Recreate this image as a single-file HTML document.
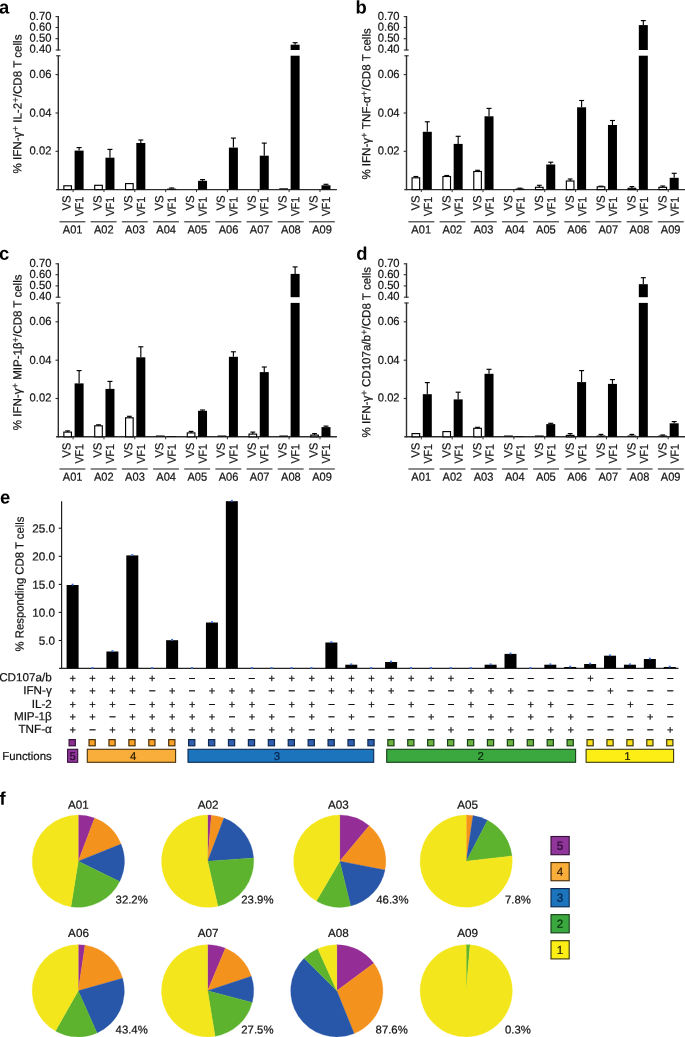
<!DOCTYPE html>
<html lang="en">
<head>
<meta charset="utf-8">
<title>Figure</title>
<style>
html,body{margin:0;padding:0;background:#fff;}
body{width:685px;height:1037px;overflow:hidden;}
svg{display:block;font-family:"Liberation Sans", sans-serif;text-rendering:geometricPrecision;will-change:transform;}
</style>
</head>
<body>
<svg width="685" height="1037" viewBox="0 0 685 1037">
<rect x="0" y="0" width="685" height="1037" fill="#ffffff"/>
<text x="-0.90" y="13.60" font-size="18.4" font-weight="bold" transform="rotate(0.04 -0.90 13.60)" fill="#000" stroke="none">a</text>
<line x1="58.30" y1="16.00" x2="58.30" y2="50.40" stroke="#2e2e2e" stroke-width="1.4" />
<line x1="58.30" y1="55.40" x2="58.30" y2="190.20" stroke="#2e2e2e" stroke-width="1.4" />
<line x1="55.70" y1="50.00" x2="60.50" y2="50.00" stroke="#2e2e2e" stroke-width="1.1" />
<line x1="56.10" y1="55.80" x2="60.50" y2="55.80" stroke="#2e2e2e" stroke-width="1.1" />
<line x1="55.50" y1="16.60" x2="58.30" y2="16.60" stroke="#2e2e2e" stroke-width="1.1" />
<text x="51.40" y="19.90" font-size="11.7" text-anchor="end" transform="rotate(0.04 51.40 19.90)" textLength="21.8" lengthAdjust="spacingAndGlyphs" fill="#141414" stroke="#141414" stroke-width="0.22" >0.70</text>
<line x1="55.50" y1="27.50" x2="58.30" y2="27.50" stroke="#2e2e2e" stroke-width="1.1" />
<text x="51.40" y="30.80" font-size="11.7" text-anchor="end" transform="rotate(0.04 51.40 30.80)" textLength="21.8" lengthAdjust="spacingAndGlyphs" fill="#141414" stroke="#141414" stroke-width="0.22" >0.60</text>
<line x1="55.50" y1="38.70" x2="58.30" y2="38.70" stroke="#2e2e2e" stroke-width="1.1" />
<text x="51.40" y="41.70" font-size="11.7" text-anchor="end" transform="rotate(0.04 51.40 41.70)" textLength="21.8" lengthAdjust="spacingAndGlyphs" fill="#141414" stroke="#141414" stroke-width="0.22" >0.50</text>
<text x="51.40" y="52.70" font-size="11.7" text-anchor="end" transform="rotate(0.04 51.40 52.70)" textLength="21.8" lengthAdjust="spacingAndGlyphs" fill="#141414" stroke="#141414" stroke-width="0.22" >0.40</text>
<line x1="55.50" y1="74.60" x2="58.30" y2="74.60" stroke="#2e2e2e" stroke-width="1.1" />
<text x="51.40" y="77.90" font-size="11.7" text-anchor="end" transform="rotate(0.04 51.40 77.90)" textLength="21.8" lengthAdjust="spacingAndGlyphs" fill="#141414" stroke="#141414" stroke-width="0.22" >0.06</text>
<line x1="55.50" y1="113.00" x2="58.30" y2="113.00" stroke="#2e2e2e" stroke-width="1.1" />
<text x="51.40" y="116.80" font-size="11.7" text-anchor="end" transform="rotate(0.04 51.40 116.80)" textLength="21.8" lengthAdjust="spacingAndGlyphs" fill="#141414" stroke="#141414" stroke-width="0.22" >0.04</text>
<line x1="55.50" y1="151.30" x2="58.30" y2="151.30" stroke="#2e2e2e" stroke-width="1.1" />
<text x="51.40" y="154.40" font-size="11.7" text-anchor="end" transform="rotate(0.04 51.40 154.40)" textLength="21.8" lengthAdjust="spacingAndGlyphs" fill="#141414" stroke="#141414" stroke-width="0.22" >0.02</text>
<line x1="56.10" y1="189.60" x2="336.90" y2="189.60" stroke="#2e2e2e" stroke-width="1.4" />
<text x="21.40" y="104.00" font-size="11.7" text-anchor="middle" transform="rotate(-89.96 21.40 104.00)" textLength="139.0" lengthAdjust="spacingAndGlyphs" fill="#141414" stroke="#141414" stroke-width="0.22" >% IFN-&#947;<tspan dy="-3.0" font-size="9.6" stroke-width="0.12">+</tspan><tspan dy="3.0"> IL-2</tspan><tspan dy="-3.0" font-size="9.6" stroke-width="0.12">+</tspan><tspan dy="3.0">/CD8 T cells</tspan></text>
<rect x="63.85" y="185.80" width="7.60" height="3.80" fill="#fff" stroke="#000" stroke-width="1.15"/>
<line x1="79.10" y1="147.60" x2="79.10" y2="150.60" stroke="#000" stroke-width="1.15" />
<line x1="76.60" y1="147.60" x2="81.60" y2="147.60" stroke="#000" stroke-width="1.15" />
<rect x="74.60" y="150.60" width="9.00" height="39.00" fill="#000000"/>
<line x1="73.10" y1="189.60" x2="73.10" y2="192.10" stroke="#2e2e2e" stroke-width="1.0" />
<text x="70.55" y="210.60" font-size="11.7" transform="rotate(-89.96 70.55 210.60)" textLength="15.1" lengthAdjust="spacingAndGlyphs" fill="#141414" stroke="#141414" stroke-width="0.22" >VS</text>
<text x="83.20" y="216.30" font-size="11.7" transform="rotate(-89.96 83.20 216.30)" textLength="19.5" lengthAdjust="spacingAndGlyphs" fill="#141414" stroke="#141414" stroke-width="0.22" >VF1</text>
<line x1="59.50" y1="221.80" x2="85.40" y2="221.80" stroke="#2a2a2a" stroke-width="1.1" />
<text x="72.60" y="233.50" font-size="11.7" text-anchor="middle" transform="rotate(0.04 72.60 233.50)" textLength="19.7" lengthAdjust="spacingAndGlyphs" fill="#141414" stroke="#141414" stroke-width="0.22" >A01</text>
<rect x="94.71" y="185.30" width="7.60" height="4.30" fill="#fff" stroke="#000" stroke-width="1.15"/>
<line x1="109.96" y1="149.40" x2="109.96" y2="157.70" stroke="#000" stroke-width="1.15" />
<line x1="107.46" y1="149.40" x2="112.46" y2="149.40" stroke="#000" stroke-width="1.15" />
<rect x="105.46" y="157.70" width="9.00" height="31.90" fill="#000000"/>
<line x1="103.96" y1="189.60" x2="103.96" y2="192.10" stroke="#2e2e2e" stroke-width="1.0" />
<text x="101.41" y="210.60" font-size="11.7" transform="rotate(-89.96 101.41 210.60)" textLength="15.1" lengthAdjust="spacingAndGlyphs" fill="#141414" stroke="#141414" stroke-width="0.22" >VS</text>
<text x="114.06" y="216.30" font-size="11.7" transform="rotate(-89.96 114.06 216.30)" textLength="19.5" lengthAdjust="spacingAndGlyphs" fill="#141414" stroke="#141414" stroke-width="0.22" >VF1</text>
<line x1="90.68" y1="221.80" x2="116.58" y2="221.80" stroke="#2a2a2a" stroke-width="1.1" />
<text x="103.78" y="233.50" font-size="11.7" text-anchor="middle" transform="rotate(0.04 103.78 233.50)" textLength="19.7" lengthAdjust="spacingAndGlyphs" fill="#141414" stroke="#141414" stroke-width="0.22" >A02</text>
<rect x="125.57" y="183.60" width="7.60" height="6.00" fill="#fff" stroke="#000" stroke-width="1.15"/>
<line x1="140.82" y1="140.00" x2="140.82" y2="143.00" stroke="#000" stroke-width="1.15" />
<line x1="138.32" y1="140.00" x2="143.32" y2="140.00" stroke="#000" stroke-width="1.15" />
<rect x="136.32" y="143.00" width="9.00" height="46.60" fill="#000000"/>
<line x1="134.82" y1="189.60" x2="134.82" y2="192.10" stroke="#2e2e2e" stroke-width="1.0" />
<text x="132.27" y="210.60" font-size="11.7" transform="rotate(-89.96 132.27 210.60)" textLength="15.1" lengthAdjust="spacingAndGlyphs" fill="#141414" stroke="#141414" stroke-width="0.22" >VS</text>
<text x="144.92" y="216.30" font-size="11.7" transform="rotate(-89.96 144.92 216.30)" textLength="19.5" lengthAdjust="spacingAndGlyphs" fill="#141414" stroke="#141414" stroke-width="0.22" >VF1</text>
<line x1="121.86" y1="221.80" x2="147.76" y2="221.80" stroke="#2a2a2a" stroke-width="1.1" />
<text x="134.96" y="233.50" font-size="11.7" text-anchor="middle" transform="rotate(0.04 134.96 233.50)" textLength="19.7" lengthAdjust="spacingAndGlyphs" fill="#141414" stroke="#141414" stroke-width="0.22" >A03</text>
<line x1="171.68" y1="188.00" x2="171.68" y2="188.60" stroke="#000" stroke-width="1.15" />
<line x1="169.18" y1="188.00" x2="174.18" y2="188.00" stroke="#000" stroke-width="1.15" />
<rect x="167.18" y="188.60" width="9.00" height="1.00" fill="#000000"/>
<line x1="165.68" y1="189.60" x2="165.68" y2="192.10" stroke="#2e2e2e" stroke-width="1.0" />
<text x="163.13" y="210.60" font-size="11.7" transform="rotate(-89.96 163.13 210.60)" textLength="15.1" lengthAdjust="spacingAndGlyphs" fill="#141414" stroke="#141414" stroke-width="0.22" >VS</text>
<text x="175.78" y="216.30" font-size="11.7" transform="rotate(-89.96 175.78 216.30)" textLength="19.5" lengthAdjust="spacingAndGlyphs" fill="#141414" stroke="#141414" stroke-width="0.22" >VF1</text>
<line x1="153.04" y1="221.80" x2="178.94" y2="221.80" stroke="#2a2a2a" stroke-width="1.1" />
<text x="166.14" y="233.50" font-size="11.7" text-anchor="middle" transform="rotate(0.04 166.14 233.50)" textLength="19.7" lengthAdjust="spacingAndGlyphs" fill="#141414" stroke="#141414" stroke-width="0.22" >A04</text>
<line x1="202.54" y1="179.60" x2="202.54" y2="180.80" stroke="#000" stroke-width="1.15" />
<line x1="200.04" y1="179.60" x2="205.04" y2="179.60" stroke="#000" stroke-width="1.15" />
<rect x="198.04" y="180.80" width="9.00" height="8.80" fill="#000000"/>
<line x1="196.54" y1="189.60" x2="196.54" y2="192.10" stroke="#2e2e2e" stroke-width="1.0" />
<text x="193.99" y="210.60" font-size="11.7" transform="rotate(-89.96 193.99 210.60)" textLength="15.1" lengthAdjust="spacingAndGlyphs" fill="#141414" stroke="#141414" stroke-width="0.22" >VS</text>
<text x="206.64" y="216.30" font-size="11.7" transform="rotate(-89.96 206.64 216.30)" textLength="19.5" lengthAdjust="spacingAndGlyphs" fill="#141414" stroke="#141414" stroke-width="0.22" >VF1</text>
<line x1="184.22" y1="221.80" x2="210.12" y2="221.80" stroke="#2a2a2a" stroke-width="1.1" />
<text x="197.32" y="233.50" font-size="11.7" text-anchor="middle" transform="rotate(0.04 197.32 233.50)" textLength="19.7" lengthAdjust="spacingAndGlyphs" fill="#141414" stroke="#141414" stroke-width="0.22" >A05</text>
<line x1="233.40" y1="138.10" x2="233.40" y2="147.60" stroke="#000" stroke-width="1.15" />
<line x1="230.90" y1="138.10" x2="235.90" y2="138.10" stroke="#000" stroke-width="1.15" />
<rect x="228.90" y="147.60" width="9.00" height="42.00" fill="#000000"/>
<line x1="227.40" y1="189.60" x2="227.40" y2="192.10" stroke="#2e2e2e" stroke-width="1.0" />
<text x="224.85" y="210.60" font-size="11.7" transform="rotate(-89.96 224.85 210.60)" textLength="15.1" lengthAdjust="spacingAndGlyphs" fill="#141414" stroke="#141414" stroke-width="0.22" >VS</text>
<text x="237.50" y="216.30" font-size="11.7" transform="rotate(-89.96 237.50 216.30)" textLength="19.5" lengthAdjust="spacingAndGlyphs" fill="#141414" stroke="#141414" stroke-width="0.22" >VF1</text>
<line x1="215.40" y1="221.80" x2="241.30" y2="221.80" stroke="#2a2a2a" stroke-width="1.1" />
<text x="228.50" y="233.50" font-size="11.7" text-anchor="middle" transform="rotate(0.04 228.50 233.50)" textLength="19.7" lengthAdjust="spacingAndGlyphs" fill="#141414" stroke="#141414" stroke-width="0.22" >A06</text>
<line x1="264.26" y1="143.10" x2="264.26" y2="155.70" stroke="#000" stroke-width="1.15" />
<line x1="261.76" y1="143.10" x2="266.76" y2="143.10" stroke="#000" stroke-width="1.15" />
<rect x="259.76" y="155.70" width="9.00" height="33.90" fill="#000000"/>
<line x1="258.26" y1="189.60" x2="258.26" y2="192.10" stroke="#2e2e2e" stroke-width="1.0" />
<text x="255.71" y="210.60" font-size="11.7" transform="rotate(-89.96 255.71 210.60)" textLength="15.1" lengthAdjust="spacingAndGlyphs" fill="#141414" stroke="#141414" stroke-width="0.22" >VS</text>
<text x="268.36" y="216.30" font-size="11.7" transform="rotate(-89.96 268.36 216.30)" textLength="19.5" lengthAdjust="spacingAndGlyphs" fill="#141414" stroke="#141414" stroke-width="0.22" >VF1</text>
<line x1="246.58" y1="221.80" x2="272.48" y2="221.80" stroke="#2a2a2a" stroke-width="1.1" />
<text x="259.68" y="233.50" font-size="11.7" text-anchor="middle" transform="rotate(0.04 259.68 233.50)" textLength="19.7" lengthAdjust="spacingAndGlyphs" fill="#141414" stroke="#141414" stroke-width="0.22" >A07</text>
<line x1="279.32" y1="188.90" x2="288.02" y2="188.90" stroke="#141414" stroke-width="1.3" />
<rect x="290.62" y="55.70" width="9.00" height="133.90" fill="#000000"/>
<rect x="290.62" y="44.70" width="9.00" height="5.30" fill="#000000"/>
<line x1="295.12" y1="42.70" x2="295.12" y2="44.70" stroke="#000" stroke-width="1.15" />
<line x1="292.62" y1="42.70" x2="297.62" y2="42.70" stroke="#000" stroke-width="1.15" />
<line x1="289.12" y1="189.60" x2="289.12" y2="192.10" stroke="#2e2e2e" stroke-width="1.0" />
<text x="286.57" y="210.60" font-size="11.7" transform="rotate(-89.96 286.57 210.60)" textLength="15.1" lengthAdjust="spacingAndGlyphs" fill="#141414" stroke="#141414" stroke-width="0.22" >VS</text>
<text x="299.22" y="216.30" font-size="11.7" transform="rotate(-89.96 299.22 216.30)" textLength="19.5" lengthAdjust="spacingAndGlyphs" fill="#141414" stroke="#141414" stroke-width="0.22" >VF1</text>
<line x1="277.76" y1="221.80" x2="303.66" y2="221.80" stroke="#2a2a2a" stroke-width="1.1" />
<text x="290.86" y="233.50" font-size="11.7" text-anchor="middle" transform="rotate(0.04 290.86 233.50)" textLength="19.7" lengthAdjust="spacingAndGlyphs" fill="#141414" stroke="#141414" stroke-width="0.22" >A08</text>
<line x1="325.98" y1="184.30" x2="325.98" y2="185.30" stroke="#000" stroke-width="1.15" />
<line x1="323.48" y1="184.30" x2="328.48" y2="184.30" stroke="#000" stroke-width="1.15" />
<rect x="321.48" y="185.30" width="9.00" height="4.30" fill="#000000"/>
<line x1="319.98" y1="189.60" x2="319.98" y2="192.10" stroke="#2e2e2e" stroke-width="1.0" />
<text x="317.43" y="210.60" font-size="11.7" transform="rotate(-89.96 317.43 210.60)" textLength="15.1" lengthAdjust="spacingAndGlyphs" fill="#141414" stroke="#141414" stroke-width="0.22" >VS</text>
<text x="330.08" y="216.30" font-size="11.7" transform="rotate(-89.96 330.08 216.30)" textLength="19.5" lengthAdjust="spacingAndGlyphs" fill="#141414" stroke="#141414" stroke-width="0.22" >VF1</text>
<line x1="308.94" y1="221.80" x2="334.84" y2="221.80" stroke="#2a2a2a" stroke-width="1.1" />
<text x="322.04" y="233.50" font-size="11.7" text-anchor="middle" transform="rotate(0.04 322.04 233.50)" textLength="19.7" lengthAdjust="spacingAndGlyphs" fill="#141414" stroke="#141414" stroke-width="0.22" >A09</text>
<text x="355.50" y="13.60" font-size="18.4" font-weight="bold" transform="rotate(0.04 355.50 13.60)" fill="#000" stroke="none">b</text>
<line x1="406.50" y1="16.00" x2="406.50" y2="50.40" stroke="#2e2e2e" stroke-width="1.4" />
<line x1="406.50" y1="55.40" x2="406.50" y2="190.20" stroke="#2e2e2e" stroke-width="1.4" />
<line x1="403.90" y1="50.00" x2="408.70" y2="50.00" stroke="#2e2e2e" stroke-width="1.1" />
<line x1="404.30" y1="55.80" x2="408.70" y2="55.80" stroke="#2e2e2e" stroke-width="1.1" />
<line x1="403.70" y1="16.60" x2="406.50" y2="16.60" stroke="#2e2e2e" stroke-width="1.1" />
<text x="399.60" y="19.90" font-size="11.7" text-anchor="end" transform="rotate(0.04 399.60 19.90)" textLength="21.8" lengthAdjust="spacingAndGlyphs" fill="#141414" stroke="#141414" stroke-width="0.22" >0.70</text>
<line x1="403.70" y1="27.50" x2="406.50" y2="27.50" stroke="#2e2e2e" stroke-width="1.1" />
<text x="399.60" y="30.80" font-size="11.7" text-anchor="end" transform="rotate(0.04 399.60 30.80)" textLength="21.8" lengthAdjust="spacingAndGlyphs" fill="#141414" stroke="#141414" stroke-width="0.22" >0.60</text>
<line x1="403.70" y1="38.70" x2="406.50" y2="38.70" stroke="#2e2e2e" stroke-width="1.1" />
<text x="399.60" y="41.70" font-size="11.7" text-anchor="end" transform="rotate(0.04 399.60 41.70)" textLength="21.8" lengthAdjust="spacingAndGlyphs" fill="#141414" stroke="#141414" stroke-width="0.22" >0.50</text>
<text x="399.60" y="52.70" font-size="11.7" text-anchor="end" transform="rotate(0.04 399.60 52.70)" textLength="21.8" lengthAdjust="spacingAndGlyphs" fill="#141414" stroke="#141414" stroke-width="0.22" >0.40</text>
<line x1="403.70" y1="74.60" x2="406.50" y2="74.60" stroke="#2e2e2e" stroke-width="1.1" />
<text x="399.60" y="77.90" font-size="11.7" text-anchor="end" transform="rotate(0.04 399.60 77.90)" textLength="21.8" lengthAdjust="spacingAndGlyphs" fill="#141414" stroke="#141414" stroke-width="0.22" >0.06</text>
<line x1="403.70" y1="113.00" x2="406.50" y2="113.00" stroke="#2e2e2e" stroke-width="1.1" />
<text x="399.60" y="116.80" font-size="11.7" text-anchor="end" transform="rotate(0.04 399.60 116.80)" textLength="21.8" lengthAdjust="spacingAndGlyphs" fill="#141414" stroke="#141414" stroke-width="0.22" >0.04</text>
<line x1="403.70" y1="151.30" x2="406.50" y2="151.30" stroke="#2e2e2e" stroke-width="1.1" />
<text x="399.60" y="154.40" font-size="11.7" text-anchor="end" transform="rotate(0.04 399.60 154.40)" textLength="21.8" lengthAdjust="spacingAndGlyphs" fill="#141414" stroke="#141414" stroke-width="0.22" >0.02</text>
<line x1="404.30" y1="189.60" x2="685.10" y2="189.60" stroke="#2e2e2e" stroke-width="1.4" />
<text x="370.35" y="103.90" font-size="11.7" text-anchor="middle" transform="rotate(-89.96 370.35 103.90)" textLength="151.4" lengthAdjust="spacingAndGlyphs" fill="#141414" stroke="#141414" stroke-width="0.22" >% IFN-&#947;<tspan dy="-3.0" font-size="9.6" stroke-width="0.12">+</tspan><tspan dy="3.0"> TNF-&#945;</tspan><tspan dy="-3.0" font-size="9.6" stroke-width="0.12">+</tspan><tspan dy="3.0">/CD8 T cells</tspan></text>
<line x1="415.85" y1="176.50" x2="415.85" y2="177.80" stroke="#000" stroke-width="1.15" />
<line x1="413.45" y1="176.50" x2="418.25" y2="176.50" stroke="#000" stroke-width="1.15" />
<rect x="412.05" y="177.80" width="7.60" height="11.80" fill="#fff" stroke="#000" stroke-width="1.15"/>
<line x1="427.30" y1="121.80" x2="427.30" y2="131.80" stroke="#000" stroke-width="1.15" />
<line x1="424.80" y1="121.80" x2="429.80" y2="121.80" stroke="#000" stroke-width="1.15" />
<rect x="422.80" y="131.80" width="9.00" height="57.80" fill="#000000"/>
<line x1="421.30" y1="189.60" x2="421.30" y2="192.10" stroke="#2e2e2e" stroke-width="1.0" />
<text x="419.55" y="210.60" font-size="11.7" transform="rotate(-89.96 419.55 210.60)" textLength="15.1" lengthAdjust="spacingAndGlyphs" fill="#141414" stroke="#141414" stroke-width="0.22" >VS</text>
<text x="431.90" y="216.30" font-size="11.7" transform="rotate(-89.96 431.90 216.30)" textLength="19.5" lengthAdjust="spacingAndGlyphs" fill="#141414" stroke="#141414" stroke-width="0.22" >VF1</text>
<line x1="408.40" y1="221.80" x2="434.30" y2="221.80" stroke="#2a2a2a" stroke-width="1.1" />
<text x="421.20" y="233.50" font-size="11.7" text-anchor="middle" transform="rotate(0.04 421.20 233.50)" textLength="19.7" lengthAdjust="spacingAndGlyphs" fill="#141414" stroke="#141414" stroke-width="0.22" >A01</text>
<line x1="446.71" y1="175.50" x2="446.71" y2="176.50" stroke="#000" stroke-width="1.15" />
<line x1="444.31" y1="175.50" x2="449.11" y2="175.50" stroke="#000" stroke-width="1.15" />
<rect x="442.91" y="176.50" width="7.60" height="13.10" fill="#fff" stroke="#000" stroke-width="1.15"/>
<line x1="458.16" y1="136.30" x2="458.16" y2="143.90" stroke="#000" stroke-width="1.15" />
<line x1="455.66" y1="136.30" x2="460.66" y2="136.30" stroke="#000" stroke-width="1.15" />
<rect x="453.66" y="143.90" width="9.00" height="45.70" fill="#000000"/>
<line x1="452.16" y1="189.60" x2="452.16" y2="192.10" stroke="#2e2e2e" stroke-width="1.0" />
<text x="450.41" y="210.60" font-size="11.7" transform="rotate(-89.96 450.41 210.60)" textLength="15.1" lengthAdjust="spacingAndGlyphs" fill="#141414" stroke="#141414" stroke-width="0.22" >VS</text>
<text x="462.76" y="216.30" font-size="11.7" transform="rotate(-89.96 462.76 216.30)" textLength="19.5" lengthAdjust="spacingAndGlyphs" fill="#141414" stroke="#141414" stroke-width="0.22" >VF1</text>
<line x1="439.58" y1="221.80" x2="465.48" y2="221.80" stroke="#2a2a2a" stroke-width="1.1" />
<text x="452.38" y="233.50" font-size="11.7" text-anchor="middle" transform="rotate(0.04 452.38 233.50)" textLength="19.7" lengthAdjust="spacingAndGlyphs" fill="#141414" stroke="#141414" stroke-width="0.22" >A02</text>
<line x1="477.57" y1="170.30" x2="477.57" y2="171.50" stroke="#000" stroke-width="1.15" />
<line x1="475.17" y1="170.30" x2="479.97" y2="170.30" stroke="#000" stroke-width="1.15" />
<rect x="473.77" y="171.50" width="7.60" height="18.10" fill="#fff" stroke="#000" stroke-width="1.15"/>
<line x1="489.02" y1="108.40" x2="489.02" y2="116.30" stroke="#000" stroke-width="1.15" />
<line x1="486.52" y1="108.40" x2="491.52" y2="108.40" stroke="#000" stroke-width="1.15" />
<rect x="484.52" y="116.30" width="9.00" height="73.30" fill="#000000"/>
<line x1="483.02" y1="189.60" x2="483.02" y2="192.10" stroke="#2e2e2e" stroke-width="1.0" />
<text x="481.27" y="210.60" font-size="11.7" transform="rotate(-89.96 481.27 210.60)" textLength="15.1" lengthAdjust="spacingAndGlyphs" fill="#141414" stroke="#141414" stroke-width="0.22" >VS</text>
<text x="493.62" y="216.30" font-size="11.7" transform="rotate(-89.96 493.62 216.30)" textLength="19.5" lengthAdjust="spacingAndGlyphs" fill="#141414" stroke="#141414" stroke-width="0.22" >VF1</text>
<line x1="470.76" y1="221.80" x2="496.66" y2="221.80" stroke="#2a2a2a" stroke-width="1.1" />
<text x="483.56" y="233.50" font-size="11.7" text-anchor="middle" transform="rotate(0.04 483.56 233.50)" textLength="19.7" lengthAdjust="spacingAndGlyphs" fill="#141414" stroke="#141414" stroke-width="0.22" >A03</text>
<line x1="519.88" y1="188.20" x2="519.88" y2="188.60" stroke="#000" stroke-width="1.15" />
<line x1="517.38" y1="188.20" x2="522.38" y2="188.20" stroke="#000" stroke-width="1.15" />
<rect x="515.38" y="188.60" width="9.00" height="1.00" fill="#000000"/>
<line x1="513.88" y1="189.60" x2="513.88" y2="192.10" stroke="#2e2e2e" stroke-width="1.0" />
<text x="512.13" y="210.60" font-size="11.7" transform="rotate(-89.96 512.13 210.60)" textLength="15.1" lengthAdjust="spacingAndGlyphs" fill="#141414" stroke="#141414" stroke-width="0.22" >VS</text>
<text x="524.48" y="216.30" font-size="11.7" transform="rotate(-89.96 524.48 216.30)" textLength="19.5" lengthAdjust="spacingAndGlyphs" fill="#141414" stroke="#141414" stroke-width="0.22" >VF1</text>
<line x1="501.94" y1="221.80" x2="527.84" y2="221.80" stroke="#2a2a2a" stroke-width="1.1" />
<text x="514.74" y="233.50" font-size="11.7" text-anchor="middle" transform="rotate(0.04 514.74 233.50)" textLength="19.7" lengthAdjust="spacingAndGlyphs" fill="#141414" stroke="#141414" stroke-width="0.22" >A04</text>
<line x1="539.29" y1="185.30" x2="539.29" y2="187.30" stroke="#000" stroke-width="1.15" />
<line x1="536.89" y1="185.30" x2="541.69" y2="185.30" stroke="#000" stroke-width="1.15" />
<rect x="535.49" y="187.30" width="7.60" height="2.30" fill="#fff" stroke="#000" stroke-width="1.15"/>
<line x1="550.74" y1="162.20" x2="550.74" y2="164.50" stroke="#000" stroke-width="1.15" />
<line x1="548.24" y1="162.20" x2="553.24" y2="162.20" stroke="#000" stroke-width="1.15" />
<rect x="546.24" y="164.50" width="9.00" height="25.10" fill="#000000"/>
<line x1="544.74" y1="189.60" x2="544.74" y2="192.10" stroke="#2e2e2e" stroke-width="1.0" />
<text x="542.99" y="210.60" font-size="11.7" transform="rotate(-89.96 542.99 210.60)" textLength="15.1" lengthAdjust="spacingAndGlyphs" fill="#141414" stroke="#141414" stroke-width="0.22" >VS</text>
<text x="555.34" y="216.30" font-size="11.7" transform="rotate(-89.96 555.34 216.30)" textLength="19.5" lengthAdjust="spacingAndGlyphs" fill="#141414" stroke="#141414" stroke-width="0.22" >VF1</text>
<line x1="533.12" y1="221.80" x2="559.02" y2="221.80" stroke="#2a2a2a" stroke-width="1.1" />
<text x="545.92" y="233.50" font-size="11.7" text-anchor="middle" transform="rotate(0.04 545.92 233.50)" textLength="19.7" lengthAdjust="spacingAndGlyphs" fill="#141414" stroke="#141414" stroke-width="0.22" >A05</text>
<line x1="570.15" y1="179.00" x2="570.15" y2="181.00" stroke="#000" stroke-width="1.15" />
<line x1="567.75" y1="179.00" x2="572.55" y2="179.00" stroke="#000" stroke-width="1.15" />
<rect x="566.35" y="181.00" width="7.60" height="8.60" fill="#fff" stroke="#000" stroke-width="1.15"/>
<line x1="581.60" y1="100.50" x2="581.60" y2="107.30" stroke="#000" stroke-width="1.15" />
<line x1="579.10" y1="100.50" x2="584.10" y2="100.50" stroke="#000" stroke-width="1.15" />
<rect x="577.10" y="107.30" width="9.00" height="82.30" fill="#000000"/>
<line x1="575.60" y1="189.60" x2="575.60" y2="192.10" stroke="#2e2e2e" stroke-width="1.0" />
<text x="573.85" y="210.60" font-size="11.7" transform="rotate(-89.96 573.85 210.60)" textLength="15.1" lengthAdjust="spacingAndGlyphs" fill="#141414" stroke="#141414" stroke-width="0.22" >VS</text>
<text x="586.20" y="216.30" font-size="11.7" transform="rotate(-89.96 586.20 216.30)" textLength="19.5" lengthAdjust="spacingAndGlyphs" fill="#141414" stroke="#141414" stroke-width="0.22" >VF1</text>
<line x1="564.30" y1="221.80" x2="590.20" y2="221.80" stroke="#2a2a2a" stroke-width="1.1" />
<text x="577.10" y="233.50" font-size="11.7" text-anchor="middle" transform="rotate(0.04 577.10 233.50)" textLength="19.7" lengthAdjust="spacingAndGlyphs" fill="#141414" stroke="#141414" stroke-width="0.22" >A06</text>
<line x1="601.01" y1="186.20" x2="601.01" y2="186.80" stroke="#000" stroke-width="1.15" />
<line x1="598.61" y1="186.20" x2="603.41" y2="186.20" stroke="#000" stroke-width="1.15" />
<rect x="597.21" y="186.80" width="7.60" height="2.80" fill="#fff" stroke="#000" stroke-width="1.15"/>
<line x1="612.46" y1="120.50" x2="612.46" y2="125.00" stroke="#000" stroke-width="1.15" />
<line x1="609.96" y1="120.50" x2="614.96" y2="120.50" stroke="#000" stroke-width="1.15" />
<rect x="607.96" y="125.00" width="9.00" height="64.60" fill="#000000"/>
<line x1="606.46" y1="189.60" x2="606.46" y2="192.10" stroke="#2e2e2e" stroke-width="1.0" />
<text x="604.71" y="210.60" font-size="11.7" transform="rotate(-89.96 604.71 210.60)" textLength="15.1" lengthAdjust="spacingAndGlyphs" fill="#141414" stroke="#141414" stroke-width="0.22" >VS</text>
<text x="617.06" y="216.30" font-size="11.7" transform="rotate(-89.96 617.06 216.30)" textLength="19.5" lengthAdjust="spacingAndGlyphs" fill="#141414" stroke="#141414" stroke-width="0.22" >VF1</text>
<line x1="595.48" y1="221.80" x2="621.38" y2="221.80" stroke="#2a2a2a" stroke-width="1.1" />
<text x="608.28" y="233.50" font-size="11.7" text-anchor="middle" transform="rotate(0.04 608.28 233.50)" textLength="19.7" lengthAdjust="spacingAndGlyphs" fill="#141414" stroke="#141414" stroke-width="0.22" >A07</text>
<line x1="631.87" y1="186.60" x2="631.87" y2="188.30" stroke="#000" stroke-width="1.15" />
<line x1="629.47" y1="186.60" x2="634.27" y2="186.60" stroke="#000" stroke-width="1.15" />
<rect x="628.07" y="188.30" width="7.60" height="1.30" fill="#fff" stroke="#000" stroke-width="1.15"/>
<rect x="638.82" y="55.70" width="9.00" height="133.90" fill="#000000"/>
<rect x="638.82" y="25.10" width="9.00" height="24.90" fill="#000000"/>
<line x1="643.32" y1="20.60" x2="643.32" y2="25.10" stroke="#000" stroke-width="1.15" />
<line x1="640.82" y1="20.60" x2="645.82" y2="20.60" stroke="#000" stroke-width="1.15" />
<line x1="637.32" y1="189.60" x2="637.32" y2="192.10" stroke="#2e2e2e" stroke-width="1.0" />
<text x="635.57" y="210.60" font-size="11.7" transform="rotate(-89.96 635.57 210.60)" textLength="15.1" lengthAdjust="spacingAndGlyphs" fill="#141414" stroke="#141414" stroke-width="0.22" >VS</text>
<text x="647.92" y="216.30" font-size="11.7" transform="rotate(-89.96 647.92 216.30)" textLength="19.5" lengthAdjust="spacingAndGlyphs" fill="#141414" stroke="#141414" stroke-width="0.22" >VF1</text>
<line x1="626.66" y1="221.80" x2="652.56" y2="221.80" stroke="#2a2a2a" stroke-width="1.1" />
<text x="639.46" y="233.50" font-size="11.7" text-anchor="middle" transform="rotate(0.04 639.46 233.50)" textLength="19.7" lengthAdjust="spacingAndGlyphs" fill="#141414" stroke="#141414" stroke-width="0.22" >A08</text>
<line x1="662.73" y1="186.00" x2="662.73" y2="187.30" stroke="#000" stroke-width="1.15" />
<line x1="660.33" y1="186.00" x2="665.13" y2="186.00" stroke="#000" stroke-width="1.15" />
<rect x="658.93" y="187.30" width="7.60" height="2.30" fill="#fff" stroke="#000" stroke-width="1.15"/>
<line x1="674.18" y1="173.30" x2="674.18" y2="177.80" stroke="#000" stroke-width="1.15" />
<line x1="671.68" y1="173.30" x2="676.68" y2="173.30" stroke="#000" stroke-width="1.15" />
<rect x="669.68" y="177.80" width="9.00" height="11.80" fill="#000000"/>
<line x1="668.18" y1="189.60" x2="668.18" y2="192.10" stroke="#2e2e2e" stroke-width="1.0" />
<text x="666.43" y="210.60" font-size="11.7" transform="rotate(-89.96 666.43 210.60)" textLength="15.1" lengthAdjust="spacingAndGlyphs" fill="#141414" stroke="#141414" stroke-width="0.22" >VS</text>
<text x="678.78" y="216.30" font-size="11.7" transform="rotate(-89.96 678.78 216.30)" textLength="19.5" lengthAdjust="spacingAndGlyphs" fill="#141414" stroke="#141414" stroke-width="0.22" >VF1</text>
<line x1="657.84" y1="221.80" x2="683.74" y2="221.80" stroke="#2a2a2a" stroke-width="1.1" />
<text x="670.64" y="233.50" font-size="11.7" text-anchor="middle" transform="rotate(0.04 670.64 233.50)" textLength="19.7" lengthAdjust="spacingAndGlyphs" fill="#141414" stroke="#141414" stroke-width="0.22" >A09</text>
<text x="-0.90" y="259.70" font-size="18.4" font-weight="bold" transform="rotate(0.04 -0.90 259.70)" fill="#000" stroke="none">c</text>
<line x1="58.30" y1="263.20" x2="58.30" y2="297.60" stroke="#2e2e2e" stroke-width="1.4" />
<line x1="58.30" y1="302.60" x2="58.30" y2="437.40" stroke="#2e2e2e" stroke-width="1.4" />
<line x1="55.70" y1="297.20" x2="60.50" y2="297.20" stroke="#2e2e2e" stroke-width="1.1" />
<line x1="56.10" y1="303.00" x2="60.50" y2="303.00" stroke="#2e2e2e" stroke-width="1.1" />
<line x1="55.50" y1="263.80" x2="58.30" y2="263.80" stroke="#2e2e2e" stroke-width="1.1" />
<text x="51.40" y="267.10" font-size="11.7" text-anchor="end" transform="rotate(0.04 51.40 267.10)" textLength="21.8" lengthAdjust="spacingAndGlyphs" fill="#141414" stroke="#141414" stroke-width="0.22" >0.70</text>
<line x1="55.50" y1="274.70" x2="58.30" y2="274.70" stroke="#2e2e2e" stroke-width="1.1" />
<text x="51.40" y="278.00" font-size="11.7" text-anchor="end" transform="rotate(0.04 51.40 278.00)" textLength="21.8" lengthAdjust="spacingAndGlyphs" fill="#141414" stroke="#141414" stroke-width="0.22" >0.60</text>
<line x1="55.50" y1="285.90" x2="58.30" y2="285.90" stroke="#2e2e2e" stroke-width="1.1" />
<text x="51.40" y="288.90" font-size="11.7" text-anchor="end" transform="rotate(0.04 51.40 288.90)" textLength="21.8" lengthAdjust="spacingAndGlyphs" fill="#141414" stroke="#141414" stroke-width="0.22" >0.50</text>
<text x="51.40" y="299.90" font-size="11.7" text-anchor="end" transform="rotate(0.04 51.40 299.90)" textLength="21.8" lengthAdjust="spacingAndGlyphs" fill="#141414" stroke="#141414" stroke-width="0.22" >0.40</text>
<line x1="55.50" y1="321.80" x2="58.30" y2="321.80" stroke="#2e2e2e" stroke-width="1.1" />
<text x="51.40" y="325.10" font-size="11.7" text-anchor="end" transform="rotate(0.04 51.40 325.10)" textLength="21.8" lengthAdjust="spacingAndGlyphs" fill="#141414" stroke="#141414" stroke-width="0.22" >0.06</text>
<line x1="55.50" y1="360.20" x2="58.30" y2="360.20" stroke="#2e2e2e" stroke-width="1.1" />
<text x="51.40" y="364.00" font-size="11.7" text-anchor="end" transform="rotate(0.04 51.40 364.00)" textLength="21.8" lengthAdjust="spacingAndGlyphs" fill="#141414" stroke="#141414" stroke-width="0.22" >0.04</text>
<line x1="55.50" y1="398.50" x2="58.30" y2="398.50" stroke="#2e2e2e" stroke-width="1.1" />
<text x="51.40" y="401.60" font-size="11.7" text-anchor="end" transform="rotate(0.04 51.40 401.60)" textLength="21.8" lengthAdjust="spacingAndGlyphs" fill="#141414" stroke="#141414" stroke-width="0.22" >0.02</text>
<line x1="56.10" y1="436.80" x2="336.90" y2="436.80" stroke="#2e2e2e" stroke-width="1.4" />
<text x="21.40" y="352.35" font-size="11.7" text-anchor="middle" transform="rotate(-89.96 21.40 352.35)" textLength="155.7" lengthAdjust="spacingAndGlyphs" fill="#141414" stroke="#141414" stroke-width="0.22" >% IFN-&#947;<tspan dy="-3.0" font-size="9.6" stroke-width="0.12">+</tspan><tspan dy="3.0"> MIP-1&#946;</tspan><tspan dy="-3.0" font-size="9.6" stroke-width="0.12">+</tspan><tspan dy="3.0">/CD8 T cells</tspan></text>
<line x1="67.65" y1="430.90" x2="67.65" y2="432.10" stroke="#000" stroke-width="1.15" />
<line x1="65.25" y1="430.90" x2="70.05" y2="430.90" stroke="#000" stroke-width="1.15" />
<rect x="63.85" y="432.10" width="7.60" height="4.70" fill="#fff" stroke="#000" stroke-width="1.15"/>
<line x1="79.10" y1="370.60" x2="79.10" y2="383.40" stroke="#000" stroke-width="1.15" />
<line x1="76.60" y1="370.60" x2="81.60" y2="370.60" stroke="#000" stroke-width="1.15" />
<rect x="74.60" y="383.40" width="9.00" height="53.40" fill="#000000"/>
<line x1="73.10" y1="436.80" x2="73.10" y2="439.30" stroke="#2e2e2e" stroke-width="1.0" />
<text x="70.55" y="457.80" font-size="11.7" transform="rotate(-89.96 70.55 457.80)" textLength="15.1" lengthAdjust="spacingAndGlyphs" fill="#141414" stroke="#141414" stroke-width="0.22" >VS</text>
<text x="83.20" y="463.50" font-size="11.7" transform="rotate(-89.96 83.20 463.50)" textLength="19.5" lengthAdjust="spacingAndGlyphs" fill="#141414" stroke="#141414" stroke-width="0.22" >VF1</text>
<line x1="59.50" y1="469.00" x2="85.40" y2="469.00" stroke="#2a2a2a" stroke-width="1.1" />
<text x="72.60" y="480.70" font-size="11.7" text-anchor="middle" transform="rotate(0.04 72.60 480.70)" textLength="19.7" lengthAdjust="spacingAndGlyphs" fill="#141414" stroke="#141414" stroke-width="0.22" >A01</text>
<line x1="98.51" y1="424.80" x2="98.51" y2="425.80" stroke="#000" stroke-width="1.15" />
<line x1="96.11" y1="424.80" x2="100.91" y2="424.80" stroke="#000" stroke-width="1.15" />
<rect x="94.71" y="425.80" width="7.60" height="11.00" fill="#fff" stroke="#000" stroke-width="1.15"/>
<line x1="109.96" y1="381.40" x2="109.96" y2="388.90" stroke="#000" stroke-width="1.15" />
<line x1="107.46" y1="381.40" x2="112.46" y2="381.40" stroke="#000" stroke-width="1.15" />
<rect x="105.46" y="388.90" width="9.00" height="47.90" fill="#000000"/>
<line x1="103.96" y1="436.80" x2="103.96" y2="439.30" stroke="#2e2e2e" stroke-width="1.0" />
<text x="101.41" y="457.80" font-size="11.7" transform="rotate(-89.96 101.41 457.80)" textLength="15.1" lengthAdjust="spacingAndGlyphs" fill="#141414" stroke="#141414" stroke-width="0.22" >VS</text>
<text x="114.06" y="463.50" font-size="11.7" transform="rotate(-89.96 114.06 463.50)" textLength="19.5" lengthAdjust="spacingAndGlyphs" fill="#141414" stroke="#141414" stroke-width="0.22" >VF1</text>
<line x1="90.68" y1="469.00" x2="116.58" y2="469.00" stroke="#2a2a2a" stroke-width="1.1" />
<text x="103.78" y="480.70" font-size="11.7" text-anchor="middle" transform="rotate(0.04 103.78 480.70)" textLength="19.7" lengthAdjust="spacingAndGlyphs" fill="#141414" stroke="#141414" stroke-width="0.22" >A02</text>
<line x1="129.37" y1="416.30" x2="129.37" y2="417.80" stroke="#000" stroke-width="1.15" />
<line x1="126.97" y1="416.30" x2="131.77" y2="416.30" stroke="#000" stroke-width="1.15" />
<rect x="125.57" y="417.80" width="7.60" height="19.00" fill="#fff" stroke="#000" stroke-width="1.15"/>
<line x1="140.82" y1="346.80" x2="140.82" y2="357.30" stroke="#000" stroke-width="1.15" />
<line x1="138.32" y1="346.80" x2="143.32" y2="346.80" stroke="#000" stroke-width="1.15" />
<rect x="136.32" y="357.30" width="9.00" height="79.50" fill="#000000"/>
<line x1="134.82" y1="436.80" x2="134.82" y2="439.30" stroke="#2e2e2e" stroke-width="1.0" />
<text x="132.27" y="457.80" font-size="11.7" transform="rotate(-89.96 132.27 457.80)" textLength="15.1" lengthAdjust="spacingAndGlyphs" fill="#141414" stroke="#141414" stroke-width="0.22" >VS</text>
<text x="144.92" y="463.50" font-size="11.7" transform="rotate(-89.96 144.92 463.50)" textLength="19.5" lengthAdjust="spacingAndGlyphs" fill="#141414" stroke="#141414" stroke-width="0.22" >VF1</text>
<line x1="121.86" y1="469.00" x2="147.76" y2="469.00" stroke="#2a2a2a" stroke-width="1.1" />
<text x="134.96" y="480.70" font-size="11.7" text-anchor="middle" transform="rotate(0.04 134.96 480.70)" textLength="19.7" lengthAdjust="spacingAndGlyphs" fill="#141414" stroke="#141414" stroke-width="0.22" >A03</text>
<line x1="155.88" y1="436.10" x2="164.58" y2="436.10" stroke="#141414" stroke-width="1.3" />
<rect x="167.18" y="436.20" width="9.00" height="0.60" fill="#000000"/>
<line x1="165.68" y1="436.80" x2="165.68" y2="439.30" stroke="#2e2e2e" stroke-width="1.0" />
<text x="163.13" y="457.80" font-size="11.7" transform="rotate(-89.96 163.13 457.80)" textLength="15.1" lengthAdjust="spacingAndGlyphs" fill="#141414" stroke="#141414" stroke-width="0.22" >VS</text>
<text x="175.78" y="463.50" font-size="11.7" transform="rotate(-89.96 175.78 463.50)" textLength="19.5" lengthAdjust="spacingAndGlyphs" fill="#141414" stroke="#141414" stroke-width="0.22" >VF1</text>
<line x1="153.04" y1="469.00" x2="178.94" y2="469.00" stroke="#2a2a2a" stroke-width="1.1" />
<text x="166.14" y="480.70" font-size="11.7" text-anchor="middle" transform="rotate(0.04 166.14 480.70)" textLength="19.7" lengthAdjust="spacingAndGlyphs" fill="#141414" stroke="#141414" stroke-width="0.22" >A04</text>
<line x1="191.09" y1="431.40" x2="191.09" y2="432.90" stroke="#000" stroke-width="1.15" />
<line x1="188.69" y1="431.40" x2="193.49" y2="431.40" stroke="#000" stroke-width="1.15" />
<rect x="187.29" y="432.90" width="7.60" height="3.90" fill="#fff" stroke="#000" stroke-width="1.15"/>
<line x1="202.54" y1="410.00" x2="202.54" y2="410.80" stroke="#000" stroke-width="1.15" />
<line x1="200.04" y1="410.00" x2="205.04" y2="410.00" stroke="#000" stroke-width="1.15" />
<rect x="198.04" y="410.80" width="9.00" height="26.00" fill="#000000"/>
<line x1="196.54" y1="436.80" x2="196.54" y2="439.30" stroke="#2e2e2e" stroke-width="1.0" />
<text x="193.99" y="457.80" font-size="11.7" transform="rotate(-89.96 193.99 457.80)" textLength="15.1" lengthAdjust="spacingAndGlyphs" fill="#141414" stroke="#141414" stroke-width="0.22" >VS</text>
<text x="206.64" y="463.50" font-size="11.7" transform="rotate(-89.96 206.64 463.50)" textLength="19.5" lengthAdjust="spacingAndGlyphs" fill="#141414" stroke="#141414" stroke-width="0.22" >VF1</text>
<line x1="184.22" y1="469.00" x2="210.12" y2="469.00" stroke="#2a2a2a" stroke-width="1.1" />
<text x="197.32" y="480.70" font-size="11.7" text-anchor="middle" transform="rotate(0.04 197.32 480.70)" textLength="19.7" lengthAdjust="spacingAndGlyphs" fill="#141414" stroke="#141414" stroke-width="0.22" >A05</text>
<line x1="217.60" y1="436.10" x2="226.30" y2="436.10" stroke="#141414" stroke-width="1.3" />
<line x1="233.40" y1="351.80" x2="233.40" y2="356.80" stroke="#000" stroke-width="1.15" />
<line x1="230.90" y1="351.80" x2="235.90" y2="351.80" stroke="#000" stroke-width="1.15" />
<rect x="228.90" y="356.80" width="9.00" height="80.00" fill="#000000"/>
<line x1="227.40" y1="436.80" x2="227.40" y2="439.30" stroke="#2e2e2e" stroke-width="1.0" />
<text x="224.85" y="457.80" font-size="11.7" transform="rotate(-89.96 224.85 457.80)" textLength="15.1" lengthAdjust="spacingAndGlyphs" fill="#141414" stroke="#141414" stroke-width="0.22" >VS</text>
<text x="237.50" y="463.50" font-size="11.7" transform="rotate(-89.96 237.50 463.50)" textLength="19.5" lengthAdjust="spacingAndGlyphs" fill="#141414" stroke="#141414" stroke-width="0.22" >VF1</text>
<line x1="215.40" y1="469.00" x2="241.30" y2="469.00" stroke="#2a2a2a" stroke-width="1.1" />
<text x="228.50" y="480.70" font-size="11.7" text-anchor="middle" transform="rotate(0.04 228.50 480.70)" textLength="19.7" lengthAdjust="spacingAndGlyphs" fill="#141414" stroke="#141414" stroke-width="0.22" >A06</text>
<line x1="252.81" y1="432.10" x2="252.81" y2="434.10" stroke="#000" stroke-width="1.15" />
<line x1="250.41" y1="432.10" x2="255.21" y2="432.10" stroke="#000" stroke-width="1.15" />
<rect x="249.01" y="434.10" width="7.60" height="2.70" fill="#fff" stroke="#000" stroke-width="1.15"/>
<line x1="264.26" y1="367.00" x2="264.26" y2="372.10" stroke="#000" stroke-width="1.15" />
<line x1="261.76" y1="367.00" x2="266.76" y2="367.00" stroke="#000" stroke-width="1.15" />
<rect x="259.76" y="372.10" width="9.00" height="64.70" fill="#000000"/>
<line x1="258.26" y1="436.80" x2="258.26" y2="439.30" stroke="#2e2e2e" stroke-width="1.0" />
<text x="255.71" y="457.80" font-size="11.7" transform="rotate(-89.96 255.71 457.80)" textLength="15.1" lengthAdjust="spacingAndGlyphs" fill="#141414" stroke="#141414" stroke-width="0.22" >VS</text>
<text x="268.36" y="463.50" font-size="11.7" transform="rotate(-89.96 268.36 463.50)" textLength="19.5" lengthAdjust="spacingAndGlyphs" fill="#141414" stroke="#141414" stroke-width="0.22" >VF1</text>
<line x1="246.58" y1="469.00" x2="272.48" y2="469.00" stroke="#2a2a2a" stroke-width="1.1" />
<text x="259.68" y="480.70" font-size="11.7" text-anchor="middle" transform="rotate(0.04 259.68 480.70)" textLength="19.7" lengthAdjust="spacingAndGlyphs" fill="#141414" stroke="#141414" stroke-width="0.22" >A07</text>
<line x1="279.32" y1="436.10" x2="288.02" y2="436.10" stroke="#141414" stroke-width="1.3" />
<rect x="290.62" y="302.90" width="9.00" height="133.90" fill="#000000"/>
<rect x="290.62" y="273.90" width="9.00" height="23.30" fill="#000000"/>
<line x1="295.12" y1="266.90" x2="295.12" y2="273.90" stroke="#000" stroke-width="1.15" />
<line x1="292.62" y1="266.90" x2="297.62" y2="266.90" stroke="#000" stroke-width="1.15" />
<line x1="289.12" y1="436.80" x2="289.12" y2="439.30" stroke="#2e2e2e" stroke-width="1.0" />
<text x="286.57" y="457.80" font-size="11.7" transform="rotate(-89.96 286.57 457.80)" textLength="15.1" lengthAdjust="spacingAndGlyphs" fill="#141414" stroke="#141414" stroke-width="0.22" >VS</text>
<text x="299.22" y="463.50" font-size="11.7" transform="rotate(-89.96 299.22 463.50)" textLength="19.5" lengthAdjust="spacingAndGlyphs" fill="#141414" stroke="#141414" stroke-width="0.22" >VF1</text>
<line x1="277.76" y1="469.00" x2="303.66" y2="469.00" stroke="#2a2a2a" stroke-width="1.1" />
<text x="290.86" y="480.70" font-size="11.7" text-anchor="middle" transform="rotate(0.04 290.86 480.70)" textLength="19.7" lengthAdjust="spacingAndGlyphs" fill="#141414" stroke="#141414" stroke-width="0.22" >A08</text>
<line x1="314.53" y1="433.60" x2="314.53" y2="435.10" stroke="#000" stroke-width="1.15" />
<line x1="312.13" y1="433.60" x2="316.93" y2="433.60" stroke="#000" stroke-width="1.15" />
<rect x="310.73" y="435.10" width="7.60" height="1.70" fill="#fff" stroke="#000" stroke-width="1.15"/>
<line x1="325.98" y1="426.10" x2="325.98" y2="427.10" stroke="#000" stroke-width="1.15" />
<line x1="323.48" y1="426.10" x2="328.48" y2="426.10" stroke="#000" stroke-width="1.15" />
<rect x="321.48" y="427.10" width="9.00" height="9.70" fill="#000000"/>
<line x1="319.98" y1="436.80" x2="319.98" y2="439.30" stroke="#2e2e2e" stroke-width="1.0" />
<text x="317.43" y="457.80" font-size="11.7" transform="rotate(-89.96 317.43 457.80)" textLength="15.1" lengthAdjust="spacingAndGlyphs" fill="#141414" stroke="#141414" stroke-width="0.22" >VS</text>
<text x="330.08" y="463.50" font-size="11.7" transform="rotate(-89.96 330.08 463.50)" textLength="19.5" lengthAdjust="spacingAndGlyphs" fill="#141414" stroke="#141414" stroke-width="0.22" >VF1</text>
<line x1="308.94" y1="469.00" x2="334.84" y2="469.00" stroke="#2a2a2a" stroke-width="1.1" />
<text x="322.04" y="480.70" font-size="11.7" text-anchor="middle" transform="rotate(0.04 322.04 480.70)" textLength="19.7" lengthAdjust="spacingAndGlyphs" fill="#141414" stroke="#141414" stroke-width="0.22" >A09</text>
<text x="356.20" y="259.70" font-size="18.4" font-weight="bold" transform="rotate(0.04 356.20 259.70)" fill="#000" stroke="none">d</text>
<line x1="406.50" y1="263.20" x2="406.50" y2="297.60" stroke="#2e2e2e" stroke-width="1.4" />
<line x1="406.50" y1="302.60" x2="406.50" y2="437.40" stroke="#2e2e2e" stroke-width="1.4" />
<line x1="403.90" y1="297.20" x2="408.70" y2="297.20" stroke="#2e2e2e" stroke-width="1.1" />
<line x1="404.30" y1="303.00" x2="408.70" y2="303.00" stroke="#2e2e2e" stroke-width="1.1" />
<line x1="403.70" y1="263.80" x2="406.50" y2="263.80" stroke="#2e2e2e" stroke-width="1.1" />
<text x="399.60" y="267.10" font-size="11.7" text-anchor="end" transform="rotate(0.04 399.60 267.10)" textLength="21.8" lengthAdjust="spacingAndGlyphs" fill="#141414" stroke="#141414" stroke-width="0.22" >0.70</text>
<line x1="403.70" y1="274.70" x2="406.50" y2="274.70" stroke="#2e2e2e" stroke-width="1.1" />
<text x="399.60" y="278.00" font-size="11.7" text-anchor="end" transform="rotate(0.04 399.60 278.00)" textLength="21.8" lengthAdjust="spacingAndGlyphs" fill="#141414" stroke="#141414" stroke-width="0.22" >0.60</text>
<line x1="403.70" y1="285.90" x2="406.50" y2="285.90" stroke="#2e2e2e" stroke-width="1.1" />
<text x="399.60" y="288.90" font-size="11.7" text-anchor="end" transform="rotate(0.04 399.60 288.90)" textLength="21.8" lengthAdjust="spacingAndGlyphs" fill="#141414" stroke="#141414" stroke-width="0.22" >0.50</text>
<text x="399.60" y="299.90" font-size="11.7" text-anchor="end" transform="rotate(0.04 399.60 299.90)" textLength="21.8" lengthAdjust="spacingAndGlyphs" fill="#141414" stroke="#141414" stroke-width="0.22" >0.40</text>
<line x1="403.70" y1="321.80" x2="406.50" y2="321.80" stroke="#2e2e2e" stroke-width="1.1" />
<text x="399.60" y="325.10" font-size="11.7" text-anchor="end" transform="rotate(0.04 399.60 325.10)" textLength="21.8" lengthAdjust="spacingAndGlyphs" fill="#141414" stroke="#141414" stroke-width="0.22" >0.06</text>
<line x1="403.70" y1="360.20" x2="406.50" y2="360.20" stroke="#2e2e2e" stroke-width="1.1" />
<text x="399.60" y="364.00" font-size="11.7" text-anchor="end" transform="rotate(0.04 399.60 364.00)" textLength="21.8" lengthAdjust="spacingAndGlyphs" fill="#141414" stroke="#141414" stroke-width="0.22" >0.04</text>
<line x1="403.70" y1="398.50" x2="406.50" y2="398.50" stroke="#2e2e2e" stroke-width="1.1" />
<text x="399.60" y="401.60" font-size="11.7" text-anchor="end" transform="rotate(0.04 399.60 401.60)" textLength="21.8" lengthAdjust="spacingAndGlyphs" fill="#141414" stroke="#141414" stroke-width="0.22" >0.02</text>
<line x1="404.30" y1="436.80" x2="685.10" y2="436.80" stroke="#2e2e2e" stroke-width="1.4" />
<text x="370.35" y="352.25" font-size="11.7" text-anchor="middle" transform="rotate(-89.96 370.35 352.25)" textLength="170.5" lengthAdjust="spacingAndGlyphs" fill="#141414" stroke="#141414" stroke-width="0.22" >% IFN-&#947;<tspan dy="-3.0" font-size="9.6" stroke-width="0.12">+</tspan><tspan dy="3.0"> CD107a/b</tspan><tspan dy="-3.0" font-size="9.6" stroke-width="0.12">+</tspan><tspan dy="3.0">/CD8 T cells</tspan></text>
<rect x="412.05" y="433.60" width="7.60" height="3.20" fill="#fff" stroke="#000" stroke-width="1.15"/>
<line x1="427.30" y1="382.60" x2="427.30" y2="394.20" stroke="#000" stroke-width="1.15" />
<line x1="424.80" y1="382.60" x2="429.80" y2="382.60" stroke="#000" stroke-width="1.15" />
<rect x="422.80" y="394.20" width="9.00" height="42.60" fill="#000000"/>
<line x1="421.30" y1="436.80" x2="421.30" y2="439.30" stroke="#2e2e2e" stroke-width="1.0" />
<text x="419.55" y="457.80" font-size="11.7" transform="rotate(-89.96 419.55 457.80)" textLength="15.1" lengthAdjust="spacingAndGlyphs" fill="#141414" stroke="#141414" stroke-width="0.22" >VS</text>
<text x="431.90" y="463.50" font-size="11.7" transform="rotate(-89.96 431.90 463.50)" textLength="19.5" lengthAdjust="spacingAndGlyphs" fill="#141414" stroke="#141414" stroke-width="0.22" >VF1</text>
<line x1="408.40" y1="469.00" x2="434.30" y2="469.00" stroke="#2a2a2a" stroke-width="1.1" />
<text x="421.20" y="480.70" font-size="11.7" text-anchor="middle" transform="rotate(0.04 421.20 480.70)" textLength="19.7" lengthAdjust="spacingAndGlyphs" fill="#141414" stroke="#141414" stroke-width="0.22" >A01</text>
<rect x="442.91" y="431.60" width="7.60" height="5.20" fill="#fff" stroke="#000" stroke-width="1.15"/>
<line x1="458.16" y1="392.20" x2="458.16" y2="399.40" stroke="#000" stroke-width="1.15" />
<line x1="455.66" y1="392.20" x2="460.66" y2="392.20" stroke="#000" stroke-width="1.15" />
<rect x="453.66" y="399.40" width="9.00" height="37.40" fill="#000000"/>
<line x1="452.16" y1="436.80" x2="452.16" y2="439.30" stroke="#2e2e2e" stroke-width="1.0" />
<text x="450.41" y="457.80" font-size="11.7" transform="rotate(-89.96 450.41 457.80)" textLength="15.1" lengthAdjust="spacingAndGlyphs" fill="#141414" stroke="#141414" stroke-width="0.22" >VS</text>
<text x="462.76" y="463.50" font-size="11.7" transform="rotate(-89.96 462.76 463.50)" textLength="19.5" lengthAdjust="spacingAndGlyphs" fill="#141414" stroke="#141414" stroke-width="0.22" >VF1</text>
<line x1="439.58" y1="469.00" x2="465.48" y2="469.00" stroke="#2a2a2a" stroke-width="1.1" />
<text x="452.38" y="480.70" font-size="11.7" text-anchor="middle" transform="rotate(0.04 452.38 480.70)" textLength="19.7" lengthAdjust="spacingAndGlyphs" fill="#141414" stroke="#141414" stroke-width="0.22" >A02</text>
<line x1="477.57" y1="427.30" x2="477.57" y2="428.30" stroke="#000" stroke-width="1.15" />
<line x1="475.17" y1="427.30" x2="479.97" y2="427.30" stroke="#000" stroke-width="1.15" />
<rect x="473.77" y="428.30" width="7.60" height="8.50" fill="#fff" stroke="#000" stroke-width="1.15"/>
<line x1="489.02" y1="369.30" x2="489.02" y2="373.80" stroke="#000" stroke-width="1.15" />
<line x1="486.52" y1="369.30" x2="491.52" y2="369.30" stroke="#000" stroke-width="1.15" />
<rect x="484.52" y="373.80" width="9.00" height="63.00" fill="#000000"/>
<line x1="483.02" y1="436.80" x2="483.02" y2="439.30" stroke="#2e2e2e" stroke-width="1.0" />
<text x="481.27" y="457.80" font-size="11.7" transform="rotate(-89.96 481.27 457.80)" textLength="15.1" lengthAdjust="spacingAndGlyphs" fill="#141414" stroke="#141414" stroke-width="0.22" >VS</text>
<text x="493.62" y="463.50" font-size="11.7" transform="rotate(-89.96 493.62 463.50)" textLength="19.5" lengthAdjust="spacingAndGlyphs" fill="#141414" stroke="#141414" stroke-width="0.22" >VF1</text>
<line x1="470.76" y1="469.00" x2="496.66" y2="469.00" stroke="#2a2a2a" stroke-width="1.1" />
<text x="483.56" y="480.70" font-size="11.7" text-anchor="middle" transform="rotate(0.04 483.56 480.70)" textLength="19.7" lengthAdjust="spacingAndGlyphs" fill="#141414" stroke="#141414" stroke-width="0.22" >A03</text>
<line x1="504.08" y1="436.10" x2="512.78" y2="436.10" stroke="#141414" stroke-width="1.3" />
<rect x="515.38" y="436.20" width="9.00" height="0.60" fill="#000000"/>
<line x1="513.88" y1="436.80" x2="513.88" y2="439.30" stroke="#2e2e2e" stroke-width="1.0" />
<text x="512.13" y="457.80" font-size="11.7" transform="rotate(-89.96 512.13 457.80)" textLength="15.1" lengthAdjust="spacingAndGlyphs" fill="#141414" stroke="#141414" stroke-width="0.22" >VS</text>
<text x="524.48" y="463.50" font-size="11.7" transform="rotate(-89.96 524.48 463.50)" textLength="19.5" lengthAdjust="spacingAndGlyphs" fill="#141414" stroke="#141414" stroke-width="0.22" >VF1</text>
<line x1="501.94" y1="469.00" x2="527.84" y2="469.00" stroke="#2a2a2a" stroke-width="1.1" />
<text x="514.74" y="480.70" font-size="11.7" text-anchor="middle" transform="rotate(0.04 514.74 480.70)" textLength="19.7" lengthAdjust="spacingAndGlyphs" fill="#141414" stroke="#141414" stroke-width="0.22" >A04</text>
<line x1="534.94" y1="436.10" x2="543.64" y2="436.10" stroke="#141414" stroke-width="1.3" />
<line x1="550.74" y1="423.30" x2="550.74" y2="424.10" stroke="#000" stroke-width="1.15" />
<line x1="548.24" y1="423.30" x2="553.24" y2="423.30" stroke="#000" stroke-width="1.15" />
<rect x="546.24" y="424.10" width="9.00" height="12.70" fill="#000000"/>
<line x1="544.74" y1="436.80" x2="544.74" y2="439.30" stroke="#2e2e2e" stroke-width="1.0" />
<text x="542.99" y="457.80" font-size="11.7" transform="rotate(-89.96 542.99 457.80)" textLength="15.1" lengthAdjust="spacingAndGlyphs" fill="#141414" stroke="#141414" stroke-width="0.22" >VS</text>
<text x="555.34" y="463.50" font-size="11.7" transform="rotate(-89.96 555.34 463.50)" textLength="19.5" lengthAdjust="spacingAndGlyphs" fill="#141414" stroke="#141414" stroke-width="0.22" >VF1</text>
<line x1="533.12" y1="469.00" x2="559.02" y2="469.00" stroke="#2a2a2a" stroke-width="1.1" />
<text x="545.92" y="480.70" font-size="11.7" text-anchor="middle" transform="rotate(0.04 545.92 480.70)" textLength="19.7" lengthAdjust="spacingAndGlyphs" fill="#141414" stroke="#141414" stroke-width="0.22" >A05</text>
<line x1="570.15" y1="433.60" x2="570.15" y2="435.40" stroke="#000" stroke-width="1.15" />
<line x1="567.75" y1="433.60" x2="572.55" y2="433.60" stroke="#000" stroke-width="1.15" />
<rect x="566.35" y="435.40" width="7.60" height="1.40" fill="#fff" stroke="#000" stroke-width="1.15"/>
<line x1="581.60" y1="370.60" x2="581.60" y2="382.10" stroke="#000" stroke-width="1.15" />
<line x1="579.10" y1="370.60" x2="584.10" y2="370.60" stroke="#000" stroke-width="1.15" />
<rect x="577.10" y="382.10" width="9.00" height="54.70" fill="#000000"/>
<line x1="575.60" y1="436.80" x2="575.60" y2="439.30" stroke="#2e2e2e" stroke-width="1.0" />
<text x="573.85" y="457.80" font-size="11.7" transform="rotate(-89.96 573.85 457.80)" textLength="15.1" lengthAdjust="spacingAndGlyphs" fill="#141414" stroke="#141414" stroke-width="0.22" >VS</text>
<text x="586.20" y="463.50" font-size="11.7" transform="rotate(-89.96 586.20 463.50)" textLength="19.5" lengthAdjust="spacingAndGlyphs" fill="#141414" stroke="#141414" stroke-width="0.22" >VF1</text>
<line x1="564.30" y1="469.00" x2="590.20" y2="469.00" stroke="#2a2a2a" stroke-width="1.1" />
<text x="577.10" y="480.70" font-size="11.7" text-anchor="middle" transform="rotate(0.04 577.10 480.70)" textLength="19.7" lengthAdjust="spacingAndGlyphs" fill="#141414" stroke="#141414" stroke-width="0.22" >A06</text>
<line x1="601.01" y1="434.40" x2="601.01" y2="435.90" stroke="#000" stroke-width="1.15" />
<line x1="598.61" y1="434.40" x2="603.41" y2="434.40" stroke="#000" stroke-width="1.15" />
<line x1="596.66" y1="436.10" x2="605.36" y2="436.10" stroke="#141414" stroke-width="1.3" />
<line x1="612.46" y1="379.60" x2="612.46" y2="383.90" stroke="#000" stroke-width="1.15" />
<line x1="609.96" y1="379.60" x2="614.96" y2="379.60" stroke="#000" stroke-width="1.15" />
<rect x="607.96" y="383.90" width="9.00" height="52.90" fill="#000000"/>
<line x1="606.46" y1="436.80" x2="606.46" y2="439.30" stroke="#2e2e2e" stroke-width="1.0" />
<text x="604.71" y="457.80" font-size="11.7" transform="rotate(-89.96 604.71 457.80)" textLength="15.1" lengthAdjust="spacingAndGlyphs" fill="#141414" stroke="#141414" stroke-width="0.22" >VS</text>
<text x="617.06" y="463.50" font-size="11.7" transform="rotate(-89.96 617.06 463.50)" textLength="19.5" lengthAdjust="spacingAndGlyphs" fill="#141414" stroke="#141414" stroke-width="0.22" >VF1</text>
<line x1="595.48" y1="469.00" x2="621.38" y2="469.00" stroke="#2a2a2a" stroke-width="1.1" />
<text x="608.28" y="480.70" font-size="11.7" text-anchor="middle" transform="rotate(0.04 608.28 480.70)" textLength="19.7" lengthAdjust="spacingAndGlyphs" fill="#141414" stroke="#141414" stroke-width="0.22" >A07</text>
<line x1="631.87" y1="434.40" x2="631.87" y2="435.60" stroke="#000" stroke-width="1.15" />
<line x1="629.47" y1="434.40" x2="634.27" y2="434.40" stroke="#000" stroke-width="1.15" />
<line x1="627.52" y1="436.10" x2="636.22" y2="436.10" stroke="#141414" stroke-width="1.3" />
<rect x="638.82" y="302.90" width="9.00" height="133.90" fill="#000000"/>
<rect x="638.82" y="284.20" width="9.00" height="13.00" fill="#000000"/>
<line x1="643.32" y1="277.70" x2="643.32" y2="284.20" stroke="#000" stroke-width="1.15" />
<line x1="640.82" y1="277.70" x2="645.82" y2="277.70" stroke="#000" stroke-width="1.15" />
<line x1="637.32" y1="436.80" x2="637.32" y2="439.30" stroke="#2e2e2e" stroke-width="1.0" />
<text x="635.57" y="457.80" font-size="11.7" transform="rotate(-89.96 635.57 457.80)" textLength="15.1" lengthAdjust="spacingAndGlyphs" fill="#141414" stroke="#141414" stroke-width="0.22" >VS</text>
<text x="647.92" y="463.50" font-size="11.7" transform="rotate(-89.96 647.92 463.50)" textLength="19.5" lengthAdjust="spacingAndGlyphs" fill="#141414" stroke="#141414" stroke-width="0.22" >VF1</text>
<line x1="626.66" y1="469.00" x2="652.56" y2="469.00" stroke="#2a2a2a" stroke-width="1.1" />
<text x="639.46" y="480.70" font-size="11.7" text-anchor="middle" transform="rotate(0.04 639.46 480.70)" textLength="19.7" lengthAdjust="spacingAndGlyphs" fill="#141414" stroke="#141414" stroke-width="0.22" >A08</text>
<line x1="662.73" y1="435.00" x2="662.73" y2="436.00" stroke="#000" stroke-width="1.15" />
<line x1="660.33" y1="435.00" x2="665.13" y2="435.00" stroke="#000" stroke-width="1.15" />
<line x1="658.38" y1="436.10" x2="667.08" y2="436.10" stroke="#141414" stroke-width="1.3" />
<line x1="674.18" y1="421.60" x2="674.18" y2="423.30" stroke="#000" stroke-width="1.15" />
<line x1="671.68" y1="421.60" x2="676.68" y2="421.60" stroke="#000" stroke-width="1.15" />
<rect x="669.68" y="423.30" width="9.00" height="13.50" fill="#000000"/>
<line x1="668.18" y1="436.80" x2="668.18" y2="439.30" stroke="#2e2e2e" stroke-width="1.0" />
<text x="666.43" y="457.80" font-size="11.7" transform="rotate(-89.96 666.43 457.80)" textLength="15.1" lengthAdjust="spacingAndGlyphs" fill="#141414" stroke="#141414" stroke-width="0.22" >VS</text>
<text x="678.78" y="463.50" font-size="11.7" transform="rotate(-89.96 678.78 463.50)" textLength="19.5" lengthAdjust="spacingAndGlyphs" fill="#141414" stroke="#141414" stroke-width="0.22" >VF1</text>
<line x1="657.84" y1="469.00" x2="683.74" y2="469.00" stroke="#2a2a2a" stroke-width="1.1" />
<text x="670.64" y="480.70" font-size="11.7" text-anchor="middle" transform="rotate(0.04 670.64 480.70)" textLength="19.7" lengthAdjust="spacingAndGlyphs" fill="#141414" stroke="#141414" stroke-width="0.22" >A09</text>
<text x="-0.10" y="503.60" font-size="18.4" font-weight="bold" transform="rotate(0.04 -0.10 503.60)" fill="#000" stroke="none">e</text>
<line x1="61.60" y1="501.30" x2="61.60" y2="668.90" stroke="#222" stroke-width="1.2" />
<line x1="59.10" y1="668.30" x2="678.50" y2="668.30" stroke="#222" stroke-width="1.2" />
<line x1="58.70" y1="528.20" x2="61.60" y2="528.20" stroke="#141414" stroke-width="1.1" />
<text x="54.90" y="532.50" font-size="11.7" text-anchor="end" transform="rotate(0.04 54.90 532.50)" fill="#141414" stroke="#141414" stroke-width="0.22" >25.0</text>
<line x1="58.70" y1="556.30" x2="61.60" y2="556.30" stroke="#141414" stroke-width="1.1" />
<text x="54.90" y="560.60" font-size="11.7" text-anchor="end" transform="rotate(0.04 54.90 560.60)" fill="#141414" stroke="#141414" stroke-width="0.22" >20.0</text>
<line x1="58.70" y1="584.40" x2="61.60" y2="584.40" stroke="#141414" stroke-width="1.1" />
<text x="54.90" y="588.70" font-size="11.7" text-anchor="end" transform="rotate(0.04 54.90 588.70)" fill="#141414" stroke="#141414" stroke-width="0.22" >15.0</text>
<line x1="58.70" y1="612.40" x2="61.60" y2="612.40" stroke="#141414" stroke-width="1.1" />
<text x="54.90" y="616.70" font-size="11.7" text-anchor="end" transform="rotate(0.04 54.90 616.70)" fill="#141414" stroke="#141414" stroke-width="0.22" >10.0</text>
<line x1="58.70" y1="640.50" x2="61.60" y2="640.50" stroke="#141414" stroke-width="1.1" />
<text x="54.90" y="644.80" font-size="11.7" text-anchor="end" transform="rotate(0.04 54.90 644.80)" fill="#141414" stroke="#141414" stroke-width="0.22" >5.0</text>
<text x="23.60" y="584.00" font-size="11.7" text-anchor="middle" transform="rotate(-89.96 23.60 584.00)" textLength="135.0" lengthAdjust="spacingAndGlyphs" fill="#141414" stroke="#141414" stroke-width="0.22" >% Responding CD8 T cells</text>
<rect x="66.60" y="585.00" width="12.00" height="83.30" fill="#000000"/>
<rect x="71.60" y="583.70" width="2" height="1.8" fill="#3f6fd0"/>
<rect x="91.50" y="667.00" width="2" height="1.8" fill="#3f6fd0"/>
<rect x="106.41" y="651.50" width="12.00" height="16.80" fill="#000000"/>
<rect x="111.41" y="650.20" width="2" height="1.8" fill="#3f6fd0"/>
<rect x="126.31" y="555.40" width="12.00" height="112.90" fill="#000000"/>
<rect x="131.31" y="554.10" width="2" height="1.8" fill="#3f6fd0"/>
<rect x="151.22" y="667.00" width="2" height="1.8" fill="#3f6fd0"/>
<rect x="166.12" y="640.20" width="12.00" height="28.10" fill="#000000"/>
<rect x="171.12" y="638.90" width="2" height="1.8" fill="#3f6fd0"/>
<rect x="191.03" y="667.00" width="2" height="1.8" fill="#3f6fd0"/>
<rect x="205.94" y="622.50" width="12.00" height="45.80" fill="#000000"/>
<rect x="210.94" y="621.20" width="2" height="1.8" fill="#3f6fd0"/>
<rect x="225.84" y="501.20" width="12.00" height="167.10" fill="#000000"/>
<rect x="230.84" y="499.90" width="2" height="1.8" fill="#3f6fd0"/>
<rect x="250.75" y="667.00" width="2" height="1.8" fill="#3f6fd0"/>
<rect x="270.65" y="667.00" width="2" height="1.8" fill="#3f6fd0"/>
<rect x="290.56" y="667.00" width="2" height="1.8" fill="#3f6fd0"/>
<rect x="310.46" y="667.00" width="2" height="1.8" fill="#3f6fd0"/>
<rect x="325.37" y="642.50" width="12.00" height="25.80" fill="#000000"/>
<rect x="330.37" y="641.20" width="2" height="1.8" fill="#3f6fd0"/>
<rect x="345.27" y="664.70" width="12.00" height="3.60" fill="#000000"/>
<rect x="350.27" y="663.40" width="2" height="1.8" fill="#3f6fd0"/>
<rect x="370.18" y="667.00" width="2" height="1.8" fill="#3f6fd0"/>
<rect x="385.08" y="662.00" width="12.00" height="6.30" fill="#000000"/>
<rect x="390.08" y="660.70" width="2" height="1.8" fill="#3f6fd0"/>
<rect x="409.99" y="667.00" width="2" height="1.8" fill="#3f6fd0"/>
<rect x="429.89" y="667.00" width="2" height="1.8" fill="#3f6fd0"/>
<rect x="449.80" y="667.00" width="2" height="1.8" fill="#3f6fd0"/>
<rect x="469.70" y="667.00" width="2" height="1.8" fill="#3f6fd0"/>
<rect x="484.61" y="664.70" width="12.00" height="3.60" fill="#000000"/>
<rect x="489.61" y="663.40" width="2" height="1.8" fill="#3f6fd0"/>
<rect x="504.51" y="653.90" width="12.00" height="14.40" fill="#000000"/>
<rect x="509.51" y="652.60" width="2" height="1.8" fill="#3f6fd0"/>
<rect x="529.42" y="667.00" width="2" height="1.8" fill="#3f6fd0"/>
<rect x="544.32" y="664.70" width="12.00" height="3.60" fill="#000000"/>
<rect x="549.32" y="663.40" width="2" height="1.8" fill="#3f6fd0"/>
<rect x="564.23" y="667.00" width="12.00" height="1.30" fill="#000000"/>
<rect x="569.23" y="665.70" width="2" height="1.8" fill="#3f6fd0"/>
<rect x="584.13" y="664.00" width="12.00" height="4.30" fill="#000000"/>
<rect x="589.13" y="662.70" width="2" height="1.8" fill="#3f6fd0"/>
<rect x="604.04" y="655.70" width="12.00" height="12.60" fill="#000000"/>
<rect x="609.04" y="654.40" width="2" height="1.8" fill="#3f6fd0"/>
<rect x="623.94" y="664.70" width="12.00" height="3.60" fill="#000000"/>
<rect x="628.94" y="663.40" width="2" height="1.8" fill="#3f6fd0"/>
<rect x="643.85" y="659.00" width="12.00" height="9.30" fill="#000000"/>
<rect x="648.85" y="657.70" width="2" height="1.8" fill="#3f6fd0"/>
<rect x="663.75" y="667.00" width="12.00" height="1.30" fill="#000000"/>
<rect x="668.75" y="665.70" width="2" height="1.8" fill="#3f6fd0"/>
<text x="51.80" y="681.30" font-size="11.7" text-anchor="end" transform="rotate(0.04 51.80 681.30)" fill="#141414" stroke="#141414" stroke-width="0.22" >CD107a/b</text>
<text x="72.60" y="682.10" font-size="11" text-anchor="middle" transform="rotate(0.04 72.60 682.10)" fill="#141414" stroke="#141414" stroke-width="0.25">+</text>
<text x="92.52" y="682.10" font-size="11" text-anchor="middle" transform="rotate(0.04 92.52 682.10)" fill="#141414" stroke="#141414" stroke-width="0.25">+</text>
<text x="112.44" y="682.10" font-size="11" text-anchor="middle" transform="rotate(0.04 112.44 682.10)" fill="#141414" stroke="#141414" stroke-width="0.25">+</text>
<text x="132.36" y="682.10" font-size="11" text-anchor="middle" transform="rotate(0.04 132.36 682.10)" fill="#141414" stroke="#141414" stroke-width="0.25">+</text>
<text x="152.28" y="682.10" font-size="11" text-anchor="middle" transform="rotate(0.04 152.28 682.10)" fill="#141414" stroke="#141414" stroke-width="0.25">+</text>
<text x="172.20" y="682.40" font-size="12" text-anchor="middle" transform="rotate(0.04 172.20 682.40)" fill="#141414" stroke="#141414" stroke-width="0.2">&#8722;</text>
<text x="192.12" y="682.40" font-size="12" text-anchor="middle" transform="rotate(0.04 192.12 682.40)" fill="#141414" stroke="#141414" stroke-width="0.2">&#8722;</text>
<text x="212.04" y="682.40" font-size="12" text-anchor="middle" transform="rotate(0.04 212.04 682.40)" fill="#141414" stroke="#141414" stroke-width="0.2">&#8722;</text>
<text x="231.96" y="682.40" font-size="12" text-anchor="middle" transform="rotate(0.04 231.96 682.40)" fill="#141414" stroke="#141414" stroke-width="0.2">&#8722;</text>
<text x="251.88" y="682.40" font-size="12" text-anchor="middle" transform="rotate(0.04 251.88 682.40)" fill="#141414" stroke="#141414" stroke-width="0.2">&#8722;</text>
<text x="271.80" y="682.10" font-size="11" text-anchor="middle" transform="rotate(0.04 271.80 682.10)" fill="#141414" stroke="#141414" stroke-width="0.25">+</text>
<text x="291.72" y="682.10" font-size="11" text-anchor="middle" transform="rotate(0.04 291.72 682.10)" fill="#141414" stroke="#141414" stroke-width="0.25">+</text>
<text x="311.64" y="682.10" font-size="11" text-anchor="middle" transform="rotate(0.04 311.64 682.10)" fill="#141414" stroke="#141414" stroke-width="0.25">+</text>
<text x="331.56" y="682.10" font-size="11" text-anchor="middle" transform="rotate(0.04 331.56 682.10)" fill="#141414" stroke="#141414" stroke-width="0.25">+</text>
<text x="351.48" y="682.10" font-size="11" text-anchor="middle" transform="rotate(0.04 351.48 682.10)" fill="#141414" stroke="#141414" stroke-width="0.25">+</text>
<text x="371.40" y="682.10" font-size="11" text-anchor="middle" transform="rotate(0.04 371.40 682.10)" fill="#141414" stroke="#141414" stroke-width="0.25">+</text>
<text x="391.32" y="682.10" font-size="11" text-anchor="middle" transform="rotate(0.04 391.32 682.10)" fill="#141414" stroke="#141414" stroke-width="0.25">+</text>
<text x="411.24" y="682.10" font-size="11" text-anchor="middle" transform="rotate(0.04 411.24 682.10)" fill="#141414" stroke="#141414" stroke-width="0.25">+</text>
<text x="431.16" y="682.10" font-size="11" text-anchor="middle" transform="rotate(0.04 431.16 682.10)" fill="#141414" stroke="#141414" stroke-width="0.25">+</text>
<text x="451.08" y="682.10" font-size="11" text-anchor="middle" transform="rotate(0.04 451.08 682.10)" fill="#141414" stroke="#141414" stroke-width="0.25">+</text>
<text x="471.00" y="682.40" font-size="12" text-anchor="middle" transform="rotate(0.04 471.00 682.40)" fill="#141414" stroke="#141414" stroke-width="0.2">&#8722;</text>
<text x="490.92" y="682.40" font-size="12" text-anchor="middle" transform="rotate(0.04 490.92 682.40)" fill="#141414" stroke="#141414" stroke-width="0.2">&#8722;</text>
<text x="510.84" y="682.40" font-size="12" text-anchor="middle" transform="rotate(0.04 510.84 682.40)" fill="#141414" stroke="#141414" stroke-width="0.2">&#8722;</text>
<text x="530.76" y="682.40" font-size="12" text-anchor="middle" transform="rotate(0.04 530.76 682.40)" fill="#141414" stroke="#141414" stroke-width="0.2">&#8722;</text>
<text x="550.68" y="682.40" font-size="12" text-anchor="middle" transform="rotate(0.04 550.68 682.40)" fill="#141414" stroke="#141414" stroke-width="0.2">&#8722;</text>
<text x="570.60" y="682.40" font-size="12" text-anchor="middle" transform="rotate(0.04 570.60 682.40)" fill="#141414" stroke="#141414" stroke-width="0.2">&#8722;</text>
<text x="590.52" y="682.10" font-size="11" text-anchor="middle" transform="rotate(0.04 590.52 682.10)" fill="#141414" stroke="#141414" stroke-width="0.25">+</text>
<text x="610.44" y="682.40" font-size="12" text-anchor="middle" transform="rotate(0.04 610.44 682.40)" fill="#141414" stroke="#141414" stroke-width="0.2">&#8722;</text>
<text x="630.36" y="682.40" font-size="12" text-anchor="middle" transform="rotate(0.04 630.36 682.40)" fill="#141414" stroke="#141414" stroke-width="0.2">&#8722;</text>
<text x="650.28" y="682.40" font-size="12" text-anchor="middle" transform="rotate(0.04 650.28 682.40)" fill="#141414" stroke="#141414" stroke-width="0.2">&#8722;</text>
<text x="670.20" y="682.40" font-size="12" text-anchor="middle" transform="rotate(0.04 670.20 682.40)" fill="#141414" stroke="#141414" stroke-width="0.2">&#8722;</text>
<text x="51.80" y="694.20" font-size="11.7" text-anchor="end" transform="rotate(0.04 51.80 694.20)" fill="#141414" stroke="#141414" stroke-width="0.22" >IFN-&#947;</text>
<text x="72.60" y="694.40" font-size="11" text-anchor="middle" transform="rotate(0.04 72.60 694.40)" fill="#141414" stroke="#141414" stroke-width="0.25">+</text>
<text x="92.52" y="694.40" font-size="11" text-anchor="middle" transform="rotate(0.04 92.52 694.40)" fill="#141414" stroke="#141414" stroke-width="0.25">+</text>
<text x="112.44" y="694.40" font-size="11" text-anchor="middle" transform="rotate(0.04 112.44 694.40)" fill="#141414" stroke="#141414" stroke-width="0.25">+</text>
<text x="132.36" y="694.40" font-size="11" text-anchor="middle" transform="rotate(0.04 132.36 694.40)" fill="#141414" stroke="#141414" stroke-width="0.25">+</text>
<text x="152.28" y="694.70" font-size="12" text-anchor="middle" transform="rotate(0.04 152.28 694.70)" fill="#141414" stroke="#141414" stroke-width="0.2">&#8722;</text>
<text x="172.20" y="694.40" font-size="11" text-anchor="middle" transform="rotate(0.04 172.20 694.40)" fill="#141414" stroke="#141414" stroke-width="0.25">+</text>
<text x="192.12" y="694.70" font-size="12" text-anchor="middle" transform="rotate(0.04 192.12 694.70)" fill="#141414" stroke="#141414" stroke-width="0.2">&#8722;</text>
<text x="212.04" y="694.40" font-size="11" text-anchor="middle" transform="rotate(0.04 212.04 694.40)" fill="#141414" stroke="#141414" stroke-width="0.25">+</text>
<text x="231.96" y="694.40" font-size="11" text-anchor="middle" transform="rotate(0.04 231.96 694.40)" fill="#141414" stroke="#141414" stroke-width="0.25">+</text>
<text x="251.88" y="694.40" font-size="11" text-anchor="middle" transform="rotate(0.04 251.88 694.40)" fill="#141414" stroke="#141414" stroke-width="0.25">+</text>
<text x="271.80" y="694.70" font-size="12" text-anchor="middle" transform="rotate(0.04 271.80 694.70)" fill="#141414" stroke="#141414" stroke-width="0.2">&#8722;</text>
<text x="291.72" y="694.70" font-size="12" text-anchor="middle" transform="rotate(0.04 291.72 694.70)" fill="#141414" stroke="#141414" stroke-width="0.2">&#8722;</text>
<text x="311.64" y="694.70" font-size="12" text-anchor="middle" transform="rotate(0.04 311.64 694.70)" fill="#141414" stroke="#141414" stroke-width="0.2">&#8722;</text>
<text x="331.56" y="694.40" font-size="11" text-anchor="middle" transform="rotate(0.04 331.56 694.40)" fill="#141414" stroke="#141414" stroke-width="0.25">+</text>
<text x="351.48" y="694.40" font-size="11" text-anchor="middle" transform="rotate(0.04 351.48 694.40)" fill="#141414" stroke="#141414" stroke-width="0.25">+</text>
<text x="371.40" y="694.40" font-size="11" text-anchor="middle" transform="rotate(0.04 371.40 694.40)" fill="#141414" stroke="#141414" stroke-width="0.25">+</text>
<text x="391.32" y="694.40" font-size="11" text-anchor="middle" transform="rotate(0.04 391.32 694.40)" fill="#141414" stroke="#141414" stroke-width="0.25">+</text>
<text x="411.24" y="694.70" font-size="12" text-anchor="middle" transform="rotate(0.04 411.24 694.70)" fill="#141414" stroke="#141414" stroke-width="0.2">&#8722;</text>
<text x="431.16" y="694.70" font-size="12" text-anchor="middle" transform="rotate(0.04 431.16 694.70)" fill="#141414" stroke="#141414" stroke-width="0.2">&#8722;</text>
<text x="451.08" y="694.70" font-size="12" text-anchor="middle" transform="rotate(0.04 451.08 694.70)" fill="#141414" stroke="#141414" stroke-width="0.2">&#8722;</text>
<text x="471.00" y="694.40" font-size="11" text-anchor="middle" transform="rotate(0.04 471.00 694.40)" fill="#141414" stroke="#141414" stroke-width="0.25">+</text>
<text x="490.92" y="694.40" font-size="11" text-anchor="middle" transform="rotate(0.04 490.92 694.40)" fill="#141414" stroke="#141414" stroke-width="0.25">+</text>
<text x="510.84" y="694.40" font-size="11" text-anchor="middle" transform="rotate(0.04 510.84 694.40)" fill="#141414" stroke="#141414" stroke-width="0.25">+</text>
<text x="530.76" y="694.70" font-size="12" text-anchor="middle" transform="rotate(0.04 530.76 694.70)" fill="#141414" stroke="#141414" stroke-width="0.2">&#8722;</text>
<text x="550.68" y="694.70" font-size="12" text-anchor="middle" transform="rotate(0.04 550.68 694.70)" fill="#141414" stroke="#141414" stroke-width="0.2">&#8722;</text>
<text x="570.60" y="694.70" font-size="12" text-anchor="middle" transform="rotate(0.04 570.60 694.70)" fill="#141414" stroke="#141414" stroke-width="0.2">&#8722;</text>
<text x="590.52" y="694.70" font-size="12" text-anchor="middle" transform="rotate(0.04 590.52 694.70)" fill="#141414" stroke="#141414" stroke-width="0.2">&#8722;</text>
<text x="610.44" y="694.40" font-size="11" text-anchor="middle" transform="rotate(0.04 610.44 694.40)" fill="#141414" stroke="#141414" stroke-width="0.25">+</text>
<text x="630.36" y="694.70" font-size="12" text-anchor="middle" transform="rotate(0.04 630.36 694.70)" fill="#141414" stroke="#141414" stroke-width="0.2">&#8722;</text>
<text x="650.28" y="694.70" font-size="12" text-anchor="middle" transform="rotate(0.04 650.28 694.70)" fill="#141414" stroke="#141414" stroke-width="0.2">&#8722;</text>
<text x="670.20" y="694.70" font-size="12" text-anchor="middle" transform="rotate(0.04 670.20 694.70)" fill="#141414" stroke="#141414" stroke-width="0.2">&#8722;</text>
<text x="51.80" y="708.00" font-size="11.7" text-anchor="end" transform="rotate(0.04 51.80 708.00)" fill="#141414" stroke="#141414" stroke-width="0.22" >IL-2</text>
<text x="72.60" y="708.20" font-size="11" text-anchor="middle" transform="rotate(0.04 72.60 708.20)" fill="#141414" stroke="#141414" stroke-width="0.25">+</text>
<text x="92.52" y="708.20" font-size="11" text-anchor="middle" transform="rotate(0.04 92.52 708.20)" fill="#141414" stroke="#141414" stroke-width="0.25">+</text>
<text x="112.44" y="708.20" font-size="11" text-anchor="middle" transform="rotate(0.04 112.44 708.20)" fill="#141414" stroke="#141414" stroke-width="0.25">+</text>
<text x="132.36" y="708.50" font-size="12" text-anchor="middle" transform="rotate(0.04 132.36 708.50)" fill="#141414" stroke="#141414" stroke-width="0.2">&#8722;</text>
<text x="152.28" y="708.20" font-size="11" text-anchor="middle" transform="rotate(0.04 152.28 708.20)" fill="#141414" stroke="#141414" stroke-width="0.25">+</text>
<text x="172.20" y="708.20" font-size="11" text-anchor="middle" transform="rotate(0.04 172.20 708.20)" fill="#141414" stroke="#141414" stroke-width="0.25">+</text>
<text x="192.12" y="708.20" font-size="11" text-anchor="middle" transform="rotate(0.04 192.12 708.20)" fill="#141414" stroke="#141414" stroke-width="0.25">+</text>
<text x="212.04" y="708.50" font-size="12" text-anchor="middle" transform="rotate(0.04 212.04 708.50)" fill="#141414" stroke="#141414" stroke-width="0.2">&#8722;</text>
<text x="231.96" y="708.20" font-size="11" text-anchor="middle" transform="rotate(0.04 231.96 708.20)" fill="#141414" stroke="#141414" stroke-width="0.25">+</text>
<text x="251.88" y="708.20" font-size="11" text-anchor="middle" transform="rotate(0.04 251.88 708.20)" fill="#141414" stroke="#141414" stroke-width="0.25">+</text>
<text x="271.80" y="708.50" font-size="12" text-anchor="middle" transform="rotate(0.04 271.80 708.50)" fill="#141414" stroke="#141414" stroke-width="0.2">&#8722;</text>
<text x="291.72" y="708.20" font-size="11" text-anchor="middle" transform="rotate(0.04 291.72 708.20)" fill="#141414" stroke="#141414" stroke-width="0.25">+</text>
<text x="311.64" y="708.20" font-size="11" text-anchor="middle" transform="rotate(0.04 311.64 708.20)" fill="#141414" stroke="#141414" stroke-width="0.25">+</text>
<text x="331.56" y="708.50" font-size="12" text-anchor="middle" transform="rotate(0.04 331.56 708.50)" fill="#141414" stroke="#141414" stroke-width="0.2">&#8722;</text>
<text x="351.48" y="708.50" font-size="12" text-anchor="middle" transform="rotate(0.04 351.48 708.50)" fill="#141414" stroke="#141414" stroke-width="0.2">&#8722;</text>
<text x="371.40" y="708.20" font-size="11" text-anchor="middle" transform="rotate(0.04 371.40 708.20)" fill="#141414" stroke="#141414" stroke-width="0.25">+</text>
<text x="391.32" y="708.50" font-size="12" text-anchor="middle" transform="rotate(0.04 391.32 708.50)" fill="#141414" stroke="#141414" stroke-width="0.2">&#8722;</text>
<text x="411.24" y="708.20" font-size="11" text-anchor="middle" transform="rotate(0.04 411.24 708.20)" fill="#141414" stroke="#141414" stroke-width="0.25">+</text>
<text x="431.16" y="708.50" font-size="12" text-anchor="middle" transform="rotate(0.04 431.16 708.50)" fill="#141414" stroke="#141414" stroke-width="0.2">&#8722;</text>
<text x="451.08" y="708.50" font-size="12" text-anchor="middle" transform="rotate(0.04 451.08 708.50)" fill="#141414" stroke="#141414" stroke-width="0.2">&#8722;</text>
<text x="471.00" y="708.20" font-size="11" text-anchor="middle" transform="rotate(0.04 471.00 708.20)" fill="#141414" stroke="#141414" stroke-width="0.25">+</text>
<text x="490.92" y="708.50" font-size="12" text-anchor="middle" transform="rotate(0.04 490.92 708.50)" fill="#141414" stroke="#141414" stroke-width="0.2">&#8722;</text>
<text x="510.84" y="708.50" font-size="12" text-anchor="middle" transform="rotate(0.04 510.84 708.50)" fill="#141414" stroke="#141414" stroke-width="0.2">&#8722;</text>
<text x="530.76" y="708.20" font-size="11" text-anchor="middle" transform="rotate(0.04 530.76 708.20)" fill="#141414" stroke="#141414" stroke-width="0.25">+</text>
<text x="550.68" y="708.20" font-size="11" text-anchor="middle" transform="rotate(0.04 550.68 708.20)" fill="#141414" stroke="#141414" stroke-width="0.25">+</text>
<text x="570.60" y="708.50" font-size="12" text-anchor="middle" transform="rotate(0.04 570.60 708.50)" fill="#141414" stroke="#141414" stroke-width="0.2">&#8722;</text>
<text x="590.52" y="708.50" font-size="12" text-anchor="middle" transform="rotate(0.04 590.52 708.50)" fill="#141414" stroke="#141414" stroke-width="0.2">&#8722;</text>
<text x="610.44" y="708.50" font-size="12" text-anchor="middle" transform="rotate(0.04 610.44 708.50)" fill="#141414" stroke="#141414" stroke-width="0.2">&#8722;</text>
<text x="630.36" y="708.20" font-size="11" text-anchor="middle" transform="rotate(0.04 630.36 708.20)" fill="#141414" stroke="#141414" stroke-width="0.25">+</text>
<text x="650.28" y="708.50" font-size="12" text-anchor="middle" transform="rotate(0.04 650.28 708.50)" fill="#141414" stroke="#141414" stroke-width="0.2">&#8722;</text>
<text x="670.20" y="708.50" font-size="12" text-anchor="middle" transform="rotate(0.04 670.20 708.50)" fill="#141414" stroke="#141414" stroke-width="0.2">&#8722;</text>
<text x="51.80" y="720.20" font-size="11.7" text-anchor="end" transform="rotate(0.04 51.80 720.20)" fill="#141414" stroke="#141414" stroke-width="0.22" >MIP-1&#946;</text>
<text x="72.60" y="720.40" font-size="11" text-anchor="middle" transform="rotate(0.04 72.60 720.40)" fill="#141414" stroke="#141414" stroke-width="0.25">+</text>
<text x="92.52" y="720.40" font-size="11" text-anchor="middle" transform="rotate(0.04 92.52 720.40)" fill="#141414" stroke="#141414" stroke-width="0.25">+</text>
<text x="112.44" y="720.70" font-size="12" text-anchor="middle" transform="rotate(0.04 112.44 720.70)" fill="#141414" stroke="#141414" stroke-width="0.2">&#8722;</text>
<text x="132.36" y="720.40" font-size="11" text-anchor="middle" transform="rotate(0.04 132.36 720.40)" fill="#141414" stroke="#141414" stroke-width="0.25">+</text>
<text x="152.28" y="720.40" font-size="11" text-anchor="middle" transform="rotate(0.04 152.28 720.40)" fill="#141414" stroke="#141414" stroke-width="0.25">+</text>
<text x="172.20" y="720.40" font-size="11" text-anchor="middle" transform="rotate(0.04 172.20 720.40)" fill="#141414" stroke="#141414" stroke-width="0.25">+</text>
<text x="192.12" y="720.40" font-size="11" text-anchor="middle" transform="rotate(0.04 192.12 720.40)" fill="#141414" stroke="#141414" stroke-width="0.25">+</text>
<text x="212.04" y="720.40" font-size="11" text-anchor="middle" transform="rotate(0.04 212.04 720.40)" fill="#141414" stroke="#141414" stroke-width="0.25">+</text>
<text x="231.96" y="720.70" font-size="12" text-anchor="middle" transform="rotate(0.04 231.96 720.70)" fill="#141414" stroke="#141414" stroke-width="0.2">&#8722;</text>
<text x="251.88" y="720.40" font-size="11" text-anchor="middle" transform="rotate(0.04 251.88 720.40)" fill="#141414" stroke="#141414" stroke-width="0.25">+</text>
<text x="271.80" y="720.40" font-size="11" text-anchor="middle" transform="rotate(0.04 271.80 720.40)" fill="#141414" stroke="#141414" stroke-width="0.25">+</text>
<text x="291.72" y="720.70" font-size="12" text-anchor="middle" transform="rotate(0.04 291.72 720.70)" fill="#141414" stroke="#141414" stroke-width="0.2">&#8722;</text>
<text x="311.64" y="720.40" font-size="11" text-anchor="middle" transform="rotate(0.04 311.64 720.40)" fill="#141414" stroke="#141414" stroke-width="0.25">+</text>
<text x="331.56" y="720.70" font-size="12" text-anchor="middle" transform="rotate(0.04 331.56 720.70)" fill="#141414" stroke="#141414" stroke-width="0.2">&#8722;</text>
<text x="351.48" y="720.40" font-size="11" text-anchor="middle" transform="rotate(0.04 351.48 720.40)" fill="#141414" stroke="#141414" stroke-width="0.25">+</text>
<text x="371.40" y="720.70" font-size="12" text-anchor="middle" transform="rotate(0.04 371.40 720.70)" fill="#141414" stroke="#141414" stroke-width="0.2">&#8722;</text>
<text x="391.32" y="720.70" font-size="12" text-anchor="middle" transform="rotate(0.04 391.32 720.70)" fill="#141414" stroke="#141414" stroke-width="0.2">&#8722;</text>
<text x="411.24" y="720.70" font-size="12" text-anchor="middle" transform="rotate(0.04 411.24 720.70)" fill="#141414" stroke="#141414" stroke-width="0.2">&#8722;</text>
<text x="431.16" y="720.40" font-size="11" text-anchor="middle" transform="rotate(0.04 431.16 720.40)" fill="#141414" stroke="#141414" stroke-width="0.25">+</text>
<text x="451.08" y="720.70" font-size="12" text-anchor="middle" transform="rotate(0.04 451.08 720.70)" fill="#141414" stroke="#141414" stroke-width="0.2">&#8722;</text>
<text x="471.00" y="720.70" font-size="12" text-anchor="middle" transform="rotate(0.04 471.00 720.70)" fill="#141414" stroke="#141414" stroke-width="0.2">&#8722;</text>
<text x="490.92" y="720.40" font-size="11" text-anchor="middle" transform="rotate(0.04 490.92 720.40)" fill="#141414" stroke="#141414" stroke-width="0.25">+</text>
<text x="510.84" y="720.70" font-size="12" text-anchor="middle" transform="rotate(0.04 510.84 720.70)" fill="#141414" stroke="#141414" stroke-width="0.2">&#8722;</text>
<text x="530.76" y="720.40" font-size="11" text-anchor="middle" transform="rotate(0.04 530.76 720.40)" fill="#141414" stroke="#141414" stroke-width="0.25">+</text>
<text x="550.68" y="720.70" font-size="12" text-anchor="middle" transform="rotate(0.04 550.68 720.70)" fill="#141414" stroke="#141414" stroke-width="0.2">&#8722;</text>
<text x="570.60" y="720.40" font-size="11" text-anchor="middle" transform="rotate(0.04 570.60 720.40)" fill="#141414" stroke="#141414" stroke-width="0.25">+</text>
<text x="590.52" y="720.70" font-size="12" text-anchor="middle" transform="rotate(0.04 590.52 720.70)" fill="#141414" stroke="#141414" stroke-width="0.2">&#8722;</text>
<text x="610.44" y="720.70" font-size="12" text-anchor="middle" transform="rotate(0.04 610.44 720.70)" fill="#141414" stroke="#141414" stroke-width="0.2">&#8722;</text>
<text x="630.36" y="720.70" font-size="12" text-anchor="middle" transform="rotate(0.04 630.36 720.70)" fill="#141414" stroke="#141414" stroke-width="0.2">&#8722;</text>
<text x="650.28" y="720.40" font-size="11" text-anchor="middle" transform="rotate(0.04 650.28 720.40)" fill="#141414" stroke="#141414" stroke-width="0.25">+</text>
<text x="670.20" y="720.70" font-size="12" text-anchor="middle" transform="rotate(0.04 670.20 720.70)" fill="#141414" stroke="#141414" stroke-width="0.2">&#8722;</text>
<text x="51.80" y="733.00" font-size="11.7" text-anchor="end" transform="rotate(0.04 51.80 733.00)" fill="#141414" stroke="#141414" stroke-width="0.22" >TNF-&#945;</text>
<text x="72.60" y="733.40" font-size="11" text-anchor="middle" transform="rotate(0.04 72.60 733.40)" fill="#141414" stroke="#141414" stroke-width="0.25">+</text>
<text x="92.52" y="733.70" font-size="12" text-anchor="middle" transform="rotate(0.04 92.52 733.70)" fill="#141414" stroke="#141414" stroke-width="0.2">&#8722;</text>
<text x="112.44" y="733.40" font-size="11" text-anchor="middle" transform="rotate(0.04 112.44 733.40)" fill="#141414" stroke="#141414" stroke-width="0.25">+</text>
<text x="132.36" y="733.40" font-size="11" text-anchor="middle" transform="rotate(0.04 132.36 733.40)" fill="#141414" stroke="#141414" stroke-width="0.25">+</text>
<text x="152.28" y="733.40" font-size="11" text-anchor="middle" transform="rotate(0.04 152.28 733.40)" fill="#141414" stroke="#141414" stroke-width="0.25">+</text>
<text x="172.20" y="733.40" font-size="11" text-anchor="middle" transform="rotate(0.04 172.20 733.40)" fill="#141414" stroke="#141414" stroke-width="0.25">+</text>
<text x="192.12" y="733.40" font-size="11" text-anchor="middle" transform="rotate(0.04 192.12 733.40)" fill="#141414" stroke="#141414" stroke-width="0.25">+</text>
<text x="212.04" y="733.40" font-size="11" text-anchor="middle" transform="rotate(0.04 212.04 733.40)" fill="#141414" stroke="#141414" stroke-width="0.25">+</text>
<text x="231.96" y="733.40" font-size="11" text-anchor="middle" transform="rotate(0.04 231.96 733.40)" fill="#141414" stroke="#141414" stroke-width="0.25">+</text>
<text x="251.88" y="733.70" font-size="12" text-anchor="middle" transform="rotate(0.04 251.88 733.70)" fill="#141414" stroke="#141414" stroke-width="0.2">&#8722;</text>
<text x="271.80" y="733.40" font-size="11" text-anchor="middle" transform="rotate(0.04 271.80 733.40)" fill="#141414" stroke="#141414" stroke-width="0.25">+</text>
<text x="291.72" y="733.40" font-size="11" text-anchor="middle" transform="rotate(0.04 291.72 733.40)" fill="#141414" stroke="#141414" stroke-width="0.25">+</text>
<text x="311.64" y="733.70" font-size="12" text-anchor="middle" transform="rotate(0.04 311.64 733.70)" fill="#141414" stroke="#141414" stroke-width="0.2">&#8722;</text>
<text x="331.56" y="733.40" font-size="11" text-anchor="middle" transform="rotate(0.04 331.56 733.40)" fill="#141414" stroke="#141414" stroke-width="0.25">+</text>
<text x="351.48" y="733.70" font-size="12" text-anchor="middle" transform="rotate(0.04 351.48 733.70)" fill="#141414" stroke="#141414" stroke-width="0.2">&#8722;</text>
<text x="371.40" y="733.70" font-size="12" text-anchor="middle" transform="rotate(0.04 371.40 733.70)" fill="#141414" stroke="#141414" stroke-width="0.2">&#8722;</text>
<text x="391.32" y="733.70" font-size="12" text-anchor="middle" transform="rotate(0.04 391.32 733.70)" fill="#141414" stroke="#141414" stroke-width="0.2">&#8722;</text>
<text x="411.24" y="733.70" font-size="12" text-anchor="middle" transform="rotate(0.04 411.24 733.70)" fill="#141414" stroke="#141414" stroke-width="0.2">&#8722;</text>
<text x="431.16" y="733.70" font-size="12" text-anchor="middle" transform="rotate(0.04 431.16 733.70)" fill="#141414" stroke="#141414" stroke-width="0.2">&#8722;</text>
<text x="451.08" y="733.40" font-size="11" text-anchor="middle" transform="rotate(0.04 451.08 733.40)" fill="#141414" stroke="#141414" stroke-width="0.25">+</text>
<text x="471.00" y="733.70" font-size="12" text-anchor="middle" transform="rotate(0.04 471.00 733.70)" fill="#141414" stroke="#141414" stroke-width="0.2">&#8722;</text>
<text x="490.92" y="733.70" font-size="12" text-anchor="middle" transform="rotate(0.04 490.92 733.70)" fill="#141414" stroke="#141414" stroke-width="0.2">&#8722;</text>
<text x="510.84" y="733.40" font-size="11" text-anchor="middle" transform="rotate(0.04 510.84 733.40)" fill="#141414" stroke="#141414" stroke-width="0.25">+</text>
<text x="530.76" y="733.70" font-size="12" text-anchor="middle" transform="rotate(0.04 530.76 733.70)" fill="#141414" stroke="#141414" stroke-width="0.2">&#8722;</text>
<text x="550.68" y="733.40" font-size="11" text-anchor="middle" transform="rotate(0.04 550.68 733.40)" fill="#141414" stroke="#141414" stroke-width="0.25">+</text>
<text x="570.60" y="733.40" font-size="11" text-anchor="middle" transform="rotate(0.04 570.60 733.40)" fill="#141414" stroke="#141414" stroke-width="0.25">+</text>
<text x="590.52" y="733.70" font-size="12" text-anchor="middle" transform="rotate(0.04 590.52 733.70)" fill="#141414" stroke="#141414" stroke-width="0.2">&#8722;</text>
<text x="610.44" y="733.70" font-size="12" text-anchor="middle" transform="rotate(0.04 610.44 733.70)" fill="#141414" stroke="#141414" stroke-width="0.2">&#8722;</text>
<text x="630.36" y="733.70" font-size="12" text-anchor="middle" transform="rotate(0.04 630.36 733.70)" fill="#141414" stroke="#141414" stroke-width="0.2">&#8722;</text>
<text x="650.28" y="733.70" font-size="12" text-anchor="middle" transform="rotate(0.04 650.28 733.70)" fill="#141414" stroke="#141414" stroke-width="0.2">&#8722;</text>
<text x="670.20" y="733.40" font-size="11" text-anchor="middle" transform="rotate(0.04 670.20 733.40)" fill="#141414" stroke="#141414" stroke-width="0.25">+</text>
<rect x="69.10" y="739.60" width="6.20" height="6.20" fill="#8d2f91" stroke="#34103a" stroke-width="1.2"/>
<rect x="67.60" y="749.30" width="10.10" height="13.00" fill="#90369a" stroke="#34103a" stroke-width="1.1"/>
<text x="72.60" y="760.00" font-size="11.4" text-anchor="middle" transform="rotate(0.04 72.60 760.00)" fill="#2a0a30" stroke="#2a0a30" stroke-width="0.22" >5</text>
<rect x="89.02" y="739.60" width="6.20" height="6.20" fill="#f7a128" stroke="#4a300a" stroke-width="1.2"/>
<rect x="108.94" y="739.60" width="6.20" height="6.20" fill="#f7a128" stroke="#4a300a" stroke-width="1.2"/>
<rect x="128.86" y="739.60" width="6.20" height="6.20" fill="#f7a128" stroke="#4a300a" stroke-width="1.2"/>
<rect x="148.78" y="739.60" width="6.20" height="6.20" fill="#f7a128" stroke="#4a300a" stroke-width="1.2"/>
<rect x="168.70" y="739.60" width="6.20" height="6.20" fill="#f7a128" stroke="#4a300a" stroke-width="1.2"/>
<rect x="87.30" y="749.30" width="88.30" height="13.00" fill="#f9ad3a" stroke="#4a300a" stroke-width="1.1"/>
<text x="133.20" y="760.00" font-size="11.4" text-anchor="middle" transform="rotate(0.04 133.20 760.00)" fill="#2e1d06" stroke="#2e1d06" stroke-width="0.22" >4</text>
<rect x="188.62" y="739.60" width="6.20" height="6.20" fill="#2f5fae" stroke="#0e2850" stroke-width="1.2"/>
<rect x="208.54" y="739.60" width="6.20" height="6.20" fill="#2f5fae" stroke="#0e2850" stroke-width="1.2"/>
<rect x="228.46" y="739.60" width="6.20" height="6.20" fill="#2f5fae" stroke="#0e2850" stroke-width="1.2"/>
<rect x="248.38" y="739.60" width="6.20" height="6.20" fill="#2f5fae" stroke="#0e2850" stroke-width="1.2"/>
<rect x="268.30" y="739.60" width="6.20" height="6.20" fill="#2f5fae" stroke="#0e2850" stroke-width="1.2"/>
<rect x="288.22" y="739.60" width="6.20" height="6.20" fill="#2f5fae" stroke="#0e2850" stroke-width="1.2"/>
<rect x="308.14" y="739.60" width="6.20" height="6.20" fill="#2f5fae" stroke="#0e2850" stroke-width="1.2"/>
<rect x="328.06" y="739.60" width="6.20" height="6.20" fill="#2f5fae" stroke="#0e2850" stroke-width="1.2"/>
<rect x="347.98" y="739.60" width="6.20" height="6.20" fill="#2f5fae" stroke="#0e2850" stroke-width="1.2"/>
<rect x="367.90" y="739.60" width="6.20" height="6.20" fill="#2f5fae" stroke="#0e2850" stroke-width="1.2"/>
<rect x="188.00" y="749.30" width="185.70" height="13.00" fill="#1c75bc" stroke="#0e2850" stroke-width="1.1"/>
<text x="276.80" y="760.00" font-size="11.4" text-anchor="middle" transform="rotate(0.04 276.80 760.00)" fill="#08214c" stroke="#08214c" stroke-width="0.22" >3</text>
<rect x="387.82" y="739.60" width="6.20" height="6.20" fill="#6db33f" stroke="#173f1a" stroke-width="1.2"/>
<rect x="407.74" y="739.60" width="6.20" height="6.20" fill="#6db33f" stroke="#173f1a" stroke-width="1.2"/>
<rect x="427.66" y="739.60" width="6.20" height="6.20" fill="#6db33f" stroke="#173f1a" stroke-width="1.2"/>
<rect x="447.58" y="739.60" width="6.20" height="6.20" fill="#6db33f" stroke="#173f1a" stroke-width="1.2"/>
<rect x="467.50" y="739.60" width="6.20" height="6.20" fill="#6db33f" stroke="#173f1a" stroke-width="1.2"/>
<rect x="487.42" y="739.60" width="6.20" height="6.20" fill="#6db33f" stroke="#173f1a" stroke-width="1.2"/>
<rect x="507.34" y="739.60" width="6.20" height="6.20" fill="#6db33f" stroke="#173f1a" stroke-width="1.2"/>
<rect x="527.26" y="739.60" width="6.20" height="6.20" fill="#6db33f" stroke="#173f1a" stroke-width="1.2"/>
<rect x="547.18" y="739.60" width="6.20" height="6.20" fill="#6db33f" stroke="#173f1a" stroke-width="1.2"/>
<rect x="567.10" y="739.60" width="6.20" height="6.20" fill="#6db33f" stroke="#173f1a" stroke-width="1.2"/>
<rect x="386.70" y="749.30" width="188.90" height="13.00" fill="#3aa83e" stroke="#173f1a" stroke-width="1.1"/>
<text x="480.60" y="760.00" font-size="11.4" text-anchor="middle" transform="rotate(0.04 480.60 760.00)" fill="#072c0d" stroke="#072c0d" stroke-width="0.22" >2</text>
<rect x="587.02" y="739.60" width="6.20" height="6.20" fill="#f9e21b" stroke="#3d390f" stroke-width="1.2"/>
<rect x="606.94" y="739.60" width="6.20" height="6.20" fill="#f9e21b" stroke="#3d390f" stroke-width="1.2"/>
<rect x="626.86" y="739.60" width="6.20" height="6.20" fill="#f9e21b" stroke="#3d390f" stroke-width="1.2"/>
<rect x="646.78" y="739.60" width="6.20" height="6.20" fill="#f9e21b" stroke="#3d390f" stroke-width="1.2"/>
<rect x="666.70" y="739.60" width="6.20" height="6.20" fill="#f9e21b" stroke="#3d390f" stroke-width="1.2"/>
<rect x="586.10" y="749.30" width="87.50" height="13.00" fill="#fdef16" stroke="#3d390f" stroke-width="1.1"/>
<text x="627.30" y="760.00" font-size="11.4" text-anchor="middle" transform="rotate(0.04 627.30 760.00)" fill="#1f1e08" stroke="#1f1e08" stroke-width="0.22" >1</text>
<text x="2.20" y="760.00" font-size="11.45" transform="rotate(0.04 2.20 760.00)" fill="#141414" stroke="#141414" stroke-width="0.22" >Functions</text>
<text x="-0.40" y="804.80" font-size="18.4" font-weight="bold" transform="rotate(0.04 -0.40 804.80)" fill="#000" stroke="none">f</text>
<path d="M78.25 861.20 L78.25 815.10 A46.1 46.1 0 0 1 94.62 818.10 Z" fill="#942d96" stroke="#942d96" stroke-width="0.3"/>
<path d="M78.25 861.20 L94.62 818.10 A46.1 46.1 0 0 1 121.05 844.08 Z" fill="#f4921e" stroke="#f4921e" stroke-width="0.3"/>
<path d="M78.25 861.20 L121.05 844.08 A46.1 46.1 0 0 1 119.68 881.41 Z" fill="#2856a8" stroke="#2856a8" stroke-width="0.3"/>
<path d="M78.25 861.20 L119.68 881.41 A46.1 46.1 0 0 1 70.96 906.72 Z" fill="#5db32e" stroke="#5db32e" stroke-width="0.3"/>
<path d="M78.25 861.20 L70.96 906.72 A46.1 46.1 0 0 1 78.25 815.10 Z" fill="#f4e61c" stroke="#f4e61c" stroke-width="0.3"/>
<text x="78.30" y="808.70" font-size="11.7" text-anchor="middle" transform="rotate(0.04 78.30 808.70)" fill="#141414" stroke="#141414" stroke-width="0.22" >A01</text>
<text x="115.60" y="903.50" font-size="11.35" transform="rotate(0.04 115.60 903.50)" fill="#141414" stroke="#141414" stroke-width="0.22" >32.2%</text>
<path d="M207.60 861.20 L207.60 815.10 A46.1 46.1 0 0 1 211.38 815.26 Z" fill="#942d96" stroke="#942d96" stroke-width="0.3"/>
<path d="M207.60 861.20 L211.38 815.26 A46.1 46.1 0 0 1 223.97 818.10 Z" fill="#f4921e" stroke="#f4921e" stroke-width="0.3"/>
<path d="M207.60 861.20 L223.97 818.10 A46.1 46.1 0 0 1 253.59 857.98 Z" fill="#2856a8" stroke="#2856a8" stroke-width="0.3"/>
<path d="M207.60 861.20 L253.59 857.98 A46.1 46.1 0 0 1 217.89 906.14 Z" fill="#5db32e" stroke="#5db32e" stroke-width="0.3"/>
<path d="M207.60 861.20 L217.89 906.14 A46.1 46.1 0 1 1 207.60 815.10 Z" fill="#f4e61c" stroke="#f4e61c" stroke-width="0.3"/>
<text x="208.10" y="808.70" font-size="11.7" text-anchor="middle" transform="rotate(0.04 208.10 808.70)" fill="#141414" stroke="#141414" stroke-width="0.22" >A02</text>
<text x="241.30" y="903.50" font-size="11.35" transform="rotate(0.04 241.30 903.50)" fill="#141414" stroke="#141414" stroke-width="0.22" >23.9%</text>
<path d="M339.70 861.20 L339.70 815.10 A46.1 46.1 0 0 1 369.21 825.78 Z" fill="#942d96" stroke="#942d96" stroke-width="0.3"/>
<path d="M339.70 861.20 L369.21 825.78 A46.1 46.1 0 0 1 384.95 870.00 Z" fill="#f4921e" stroke="#f4921e" stroke-width="0.3"/>
<path d="M339.70 861.20 L384.95 870.00 A46.1 46.1 0 0 1 350.62 905.99 Z" fill="#2856a8" stroke="#2856a8" stroke-width="0.3"/>
<path d="M339.70 861.20 L350.62 905.99 A46.1 46.1 0 0 1 316.44 901.00 Z" fill="#5db32e" stroke="#5db32e" stroke-width="0.3"/>
<path d="M339.70 861.20 L316.44 901.00 A46.1 46.1 0 0 1 339.70 815.10 Z" fill="#f4e61c" stroke="#f4e61c" stroke-width="0.3"/>
<text x="338.30" y="808.70" font-size="11.7" text-anchor="middle" transform="rotate(0.04 338.30 808.70)" fill="#141414" stroke="#141414" stroke-width="0.22" >A03</text>
<text x="376.30" y="903.50" font-size="11.35" transform="rotate(0.04 376.30 903.50)" fill="#141414" stroke="#141414" stroke-width="0.22" >46.3%</text>
<path d="M466.20 861.20 L466.20 815.10 A46.1 46.1 0 0 1 473.01 815.61 Z" fill="#f4921e" stroke="#f4921e" stroke-width="0.3"/>
<path d="M466.20 861.20 L473.01 815.61 A46.1 46.1 0 0 1 487.56 820.35 Z" fill="#2856a8" stroke="#2856a8" stroke-width="0.3"/>
<path d="M466.20 861.20 L487.56 820.35 A46.1 46.1 0 0 1 511.99 855.90 Z" fill="#5db32e" stroke="#5db32e" stroke-width="0.3"/>
<path d="M466.20 861.20 L511.99 855.90 A46.1 46.1 0 1 1 466.20 815.10 Z" fill="#f4e61c" stroke="#f4e61c" stroke-width="0.3"/>
<text x="467.60" y="808.70" font-size="11.7" text-anchor="middle" transform="rotate(0.04 467.60 808.70)" fill="#141414" stroke="#141414" stroke-width="0.22" >A05</text>
<text x="505.00" y="903.50" font-size="11.35" transform="rotate(0.04 505.00 903.50)" fill="#141414" stroke="#141414" stroke-width="0.22" >7.8%</text>
<path d="M78.25 990.80 L78.25 944.70 A46.1 46.1 0 0 1 85.06 945.21 Z" fill="#942d96" stroke="#942d96" stroke-width="0.3"/>
<path d="M78.25 990.80 L85.06 945.21 A46.1 46.1 0 0 1 122.59 978.17 Z" fill="#f4921e" stroke="#f4921e" stroke-width="0.3"/>
<path d="M78.25 990.80 L122.59 978.17 A46.1 46.1 0 0 1 97.00 1032.91 Z" fill="#2856a8" stroke="#2856a8" stroke-width="0.3"/>
<path d="M78.25 990.80 L97.00 1032.91 A46.1 46.1 0 0 1 55.48 1030.88 Z" fill="#5db32e" stroke="#5db32e" stroke-width="0.3"/>
<path d="M78.25 990.80 L55.48 1030.88 A46.1 46.1 0 0 1 78.25 944.70 Z" fill="#f4e61c" stroke="#f4e61c" stroke-width="0.3"/>
<text x="78.50" y="937.00" font-size="11.7" text-anchor="middle" transform="rotate(0.04 78.50 937.00)" fill="#141414" stroke="#141414" stroke-width="0.22" >A06</text>
<text x="115.60" y="1033.50" font-size="11.35" transform="rotate(0.04 115.60 1033.50)" fill="#141414" stroke="#141414" stroke-width="0.22" >43.4%</text>
<path d="M207.60 990.80 L207.60 944.70 A46.1 46.1 0 0 1 225.39 948.27 Z" fill="#942d96" stroke="#942d96" stroke-width="0.3"/>
<path d="M207.60 990.80 L225.39 948.27 A46.1 46.1 0 0 1 251.32 976.17 Z" fill="#f4921e" stroke="#f4921e" stroke-width="0.3"/>
<path d="M207.60 990.80 L251.32 976.17 A46.1 46.1 0 0 1 252.21 1002.42 Z" fill="#2856a8" stroke="#2856a8" stroke-width="0.3"/>
<path d="M207.60 990.80 L252.21 1002.42 A46.1 46.1 0 0 1 215.05 1036.29 Z" fill="#5db32e" stroke="#5db32e" stroke-width="0.3"/>
<path d="M207.60 990.80 L215.05 1036.29 A46.1 46.1 0 1 1 207.60 944.70 Z" fill="#f4e61c" stroke="#f4e61c" stroke-width="0.3"/>
<text x="208.10" y="937.00" font-size="11.7" text-anchor="middle" transform="rotate(0.04 208.10 937.00)" fill="#141414" stroke="#141414" stroke-width="0.22" >A07</text>
<text x="241.30" y="1033.50" font-size="11.35" transform="rotate(0.04 241.30 1033.50)" fill="#141414" stroke="#141414" stroke-width="0.22" >27.5%</text>
<path d="M336.80 990.80 L336.80 944.70 A46.1 46.1 0 0 1 373.81 963.31 Z" fill="#942d96" stroke="#942d96" stroke-width="0.3"/>
<path d="M336.80 990.80 L373.81 963.31 A46.1 46.1 0 0 1 354.14 1033.51 Z" fill="#f4921e" stroke="#f4921e" stroke-width="0.3"/>
<path d="M336.80 990.80 L354.14 1033.51 A46.1 46.1 0 0 1 304.09 958.32 Z" fill="#2856a8" stroke="#2856a8" stroke-width="0.3"/>
<path d="M336.80 990.80 L304.09 958.32 A46.1 46.1 0 0 1 317.83 948.78 Z" fill="#5db32e" stroke="#5db32e" stroke-width="0.3"/>
<path d="M336.80 990.80 L317.83 948.78 A46.1 46.1 0 0 1 336.80 944.70 Z" fill="#f4e61c" stroke="#f4e61c" stroke-width="0.3"/>
<text x="338.30" y="937.00" font-size="11.7" text-anchor="middle" transform="rotate(0.04 338.30 937.00)" fill="#141414" stroke="#141414" stroke-width="0.22" >A08</text>
<text x="375.60" y="1033.50" font-size="11.35" transform="rotate(0.04 375.60 1033.50)" fill="#141414" stroke="#141414" stroke-width="0.22" >87.6%</text>
<path d="M466.20 990.80 L466.20 944.70 A46.1 46.1 0 0 1 470.06 944.86 Z" fill="#5db32e" stroke="#5db32e" stroke-width="0.3"/>
<path d="M466.20 990.80 L470.06 944.86 A46.1 46.1 0 1 1 466.20 944.70 Z" fill="#f4e61c" stroke="#f4e61c" stroke-width="0.3"/>
<text x="467.60" y="937.00" font-size="11.7" text-anchor="middle" transform="rotate(0.04 467.60 937.00)" fill="#141414" stroke="#141414" stroke-width="0.22" >A09</text>
<text x="505.00" y="1033.50" font-size="11.35" transform="rotate(0.04 505.00 1033.50)" fill="#141414" stroke="#141414" stroke-width="0.22" >0.3%</text>
<rect x="551.00" y="836.50" width="18.20" height="18.20" fill="#90369a" stroke="#34103a" stroke-width="1.15"/>
<text x="560.10" y="849.70" font-size="11.7" text-anchor="middle" transform="rotate(0.04 560.10 849.70)" fill="#2a0a30" stroke="#2a0a30" stroke-width="0.22" >5</text>
<rect x="551.00" y="862.55" width="18.20" height="18.20" fill="#f9ad3a" stroke="#4a300a" stroke-width="1.15"/>
<text x="560.10" y="875.75" font-size="11.7" text-anchor="middle" transform="rotate(0.04 560.10 875.75)" fill="#2e1d06" stroke="#2e1d06" stroke-width="0.22" >4</text>
<rect x="551.00" y="888.60" width="18.20" height="18.20" fill="#1c75bc" stroke="#0e2850" stroke-width="1.15"/>
<text x="560.10" y="901.80" font-size="11.7" text-anchor="middle" transform="rotate(0.04 560.10 901.80)" fill="#08214c" stroke="#08214c" stroke-width="0.22" >3</text>
<rect x="551.00" y="914.65" width="18.20" height="18.20" fill="#3aa83e" stroke="#173f1a" stroke-width="1.15"/>
<text x="560.10" y="927.85" font-size="11.7" text-anchor="middle" transform="rotate(0.04 560.10 927.85)" fill="#072c0d" stroke="#072c0d" stroke-width="0.22" >2</text>
<rect x="551.00" y="940.70" width="18.20" height="18.20" fill="#fdef16" stroke="#3d390f" stroke-width="1.15"/>
<text x="560.10" y="953.90" font-size="11.7" text-anchor="middle" transform="rotate(0.04 560.10 953.90)" fill="#1f1e08" stroke="#1f1e08" stroke-width="0.22" >1</text>
</svg>
</body>
</html>
